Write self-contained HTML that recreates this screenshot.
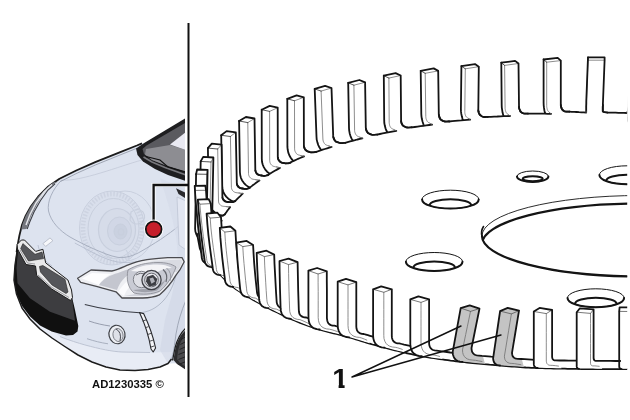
<!DOCTYPE html>
<html><head><meta charset="utf-8"><title>AD1230335</title>
<style>html,body{margin:0;padding:0;background:#fff}svg{display:block;will-change:transform}</style></head>
<body><svg width="630" height="420" viewBox="0 0 630 420">
<rect width="630" height="420" fill="#fff"/>
<clipPath id="rc"><rect x="190" y="0" width="437.2" height="420"/></clipPath>
<g clip-path="url(#rc)">
<g id="t0"><path d="M588.0,60.2 L586.3,104.0 L586.3,104.9 L586.3,105.8 L586.2,106.8 L586.2,107.6 L586.2,108.4 L586.2,109.1 L586.2,109.7 L586.2,110.1 L586.2,110.4 L586.2,110.8 L586.2,111.2 L586.2,111.5 L586.2,111.9 L586.2,112.2 L586.2,112.6 L586.2,121.0 L586.2,118.5 L586.2,117.4 L586.2,115.8 L586.2,113.8 L586.2,111.5 L586.2,108.9 L586.2,106.3 L586.3,103.7 L586.3,101.1 L588.0,57.3Z" fill="#fff"/>
<path d="M588.0,60.2 L586.3,104.0 L586.3,104.9 L586.3,105.8 L586.2,106.8 L586.2,107.6 L586.2,108.4 L586.2,109.1 L586.2,109.7 L586.2,110.1 L586.2,110.4 L586.2,110.8 L586.2,111.2 L586.2,111.5 L586.2,111.9 L586.2,112.2 L586.2,112.6 L607.3,112.6 L604.3,112.2 L603.4,111.9 L602.9,111.5 L602.8,111.2 L602.8,110.8 L602.8,110.4 L602.8,110.1 L602.8,109.7 L602.8,109.1 L602.8,108.4 L602.8,107.6 L602.8,106.8 L602.9,105.8 L602.9,104.9 L602.9,104.0 L604.6,60.2Z" fill="#fff"/>
<path d="M588.0,60.2 L588.0,57.3 L604.6,57.3 L604.6,60.2Z" fill="#fff"/>
<path d="M588.0,60.2 L586.3,104.0 L586.3,104.9 L586.3,105.8 L586.2,106.8 L586.2,107.6 L586.2,108.4 L586.2,109.1 L586.2,109.7 L586.2,110.1 L586.2,110.4 L586.2,110.8 L586.2,111.2 L586.2,111.5 L586.2,111.9 L586.2,112.2 L586.2,112.6" fill="none" stroke="#707070" stroke-width="0.80" stroke-linejoin="round" stroke-linecap="round"/>
<path d="M588.0,60.2 L604.6,60.2" fill="none" stroke="#707070" stroke-width="0.80" stroke-linejoin="round" stroke-linecap="round"/>
<path d="M588.0,60.2 L588.0,57.3" fill="none" stroke="#444" stroke-width="0.90" stroke-linejoin="round" stroke-linecap="round"/>
<path d="M588.0,57.3 L586.3,101.1 L586.3,103.7 L586.2,106.3 L586.2,108.9 L586.2,111.5 L586.2,113.8 L586.2,115.8 L586.2,117.4 L586.2,118.5 L586.2,121.0" fill="none" stroke="#141414" stroke-width="1.80" stroke-linejoin="round" stroke-linecap="round"/>
<path d="M588.0,57.3 L604.6,57.3 L604.6,60.2 L602.9,104.0 L602.9,104.9 L602.9,105.8 L602.8,106.8 L602.8,107.6 L602.8,108.4 L602.8,109.1 L602.8,109.7 L602.8,110.1 L602.8,110.4 L602.8,110.8 L602.8,111.2 L602.9,111.5 L603.4,111.9 L604.3,112.2 L607.3,112.6" fill="none" stroke="#141414" stroke-width="1.80" stroke-linejoin="round" stroke-linecap="round"/></g>
<g id="t1"><path d="M546.7,62.2 L546.7,105.5 L546.7,106.4 L546.8,107.3 L547.0,108.2 L547.2,109.1 L547.4,109.9 L547.7,110.5 L548.1,111.1 L548.4,111.5 L548.8,111.8 L549.2,112.1 L549.5,112.5 L549.9,112.8 L550.3,113.1 L550.7,113.5 L551.1,113.8 L551.1,122.2 L548.4,119.9 L547.5,118.8 L546.6,117.3 L545.7,115.3 L545.0,113.1 L544.4,110.5 L544.0,107.9 L543.7,105.3 L543.6,102.8 L543.6,59.5Z" fill="#fff"/>
<path d="M546.7,62.2 L546.7,105.5 L546.7,106.4 L546.8,107.3 L547.0,108.2 L547.2,109.1 L547.4,109.9 L547.7,110.5 L548.1,111.1 L548.4,111.5 L548.8,111.8 L549.2,112.1 L549.5,112.5 L549.9,112.8 L550.3,113.1 L550.7,113.5 L551.1,113.8 L569.4,111.6 L566.2,111.6 L565.0,111.4 L564.1,111.1 L563.6,110.8 L563.2,110.5 L562.9,110.1 L562.5,109.8 L562.1,109.4 L561.8,108.9 L561.5,108.2 L561.3,107.4 L561.0,106.6 L560.9,105.7 L560.8,104.8 L560.8,103.9 L560.8,60.6Z" fill="#fff"/>
<path d="M546.7,62.2 L543.6,59.5 L557.7,57.9 L560.8,60.6Z" fill="#fff"/>
<path d="M546.7,62.2 L546.7,105.5 L546.7,106.4 L546.8,107.3 L547.0,108.2 L547.2,109.1 L547.4,109.9 L547.7,110.5 L548.1,111.1 L548.4,111.5 L548.8,111.8 L549.2,112.1 L549.5,112.5 L549.9,112.8 L550.3,113.1 L550.7,113.5 L551.1,113.8" fill="none" stroke="#707070" stroke-width="0.80" stroke-linejoin="round" stroke-linecap="round"/>
<path d="M546.7,62.2 L560.8,60.6" fill="none" stroke="#707070" stroke-width="0.80" stroke-linejoin="round" stroke-linecap="round"/>
<path d="M546.7,62.2 L543.6,59.5" fill="none" stroke="#444" stroke-width="0.90" stroke-linejoin="round" stroke-linecap="round"/>
<path d="M543.6,59.5 L543.6,102.8 L543.7,105.3 L544.0,107.9 L544.4,110.5 L545.0,113.1 L545.7,115.3 L546.6,117.3 L547.5,118.8 L548.4,119.9 L551.1,122.2" fill="none" stroke="#141414" stroke-width="1.80" stroke-linejoin="round" stroke-linecap="round"/>
<path d="M543.6,59.5 L557.7,57.9 L560.8,60.6 L560.8,103.9 L560.8,104.8 L560.9,105.7 L561.0,106.6 L561.3,107.4 L561.5,108.2 L561.8,108.9 L562.1,109.4 L562.5,109.8 L562.9,110.1 L563.2,110.5 L563.6,110.8 L564.1,111.1 L565.0,111.4 L566.2,111.6 L569.4,111.6" fill="none" stroke="#141414" stroke-width="1.80" stroke-linejoin="round" stroke-linecap="round"/></g>
<g id="t-1"><path d="M629.8,60.6 L628.2,104.5 L628.2,105.4 L628.1,106.3 L628.0,107.2 L627.9,108.1 L627.8,108.9 L627.7,109.6 L627.6,110.1 L627.5,110.5 L627.4,110.9 L627.2,111.2 L627.1,111.6 L627.0,111.9 L626.9,112.3 L626.8,112.7 L626.7,113.0 L626.7,121.4 L627.5,118.9 L627.8,117.8 L628.1,116.2 L628.3,114.3 L628.5,111.9 L628.7,109.4 L628.9,106.7 L629.0,104.1 L629.2,101.6 L630.8,57.8Z" fill="#fff"/>
<path d="M629.8,60.6 L628.2,104.5 L628.2,105.4 L628.1,106.3 L628.0,107.2 L627.9,108.1 L627.8,108.9 L627.7,109.6 L627.6,110.1 L627.5,110.5 L627.4,110.9 L627.2,111.2 L627.1,111.6 L627.0,111.9 L626.9,112.3 L626.8,112.7 L626.7,113.0 L647.6,113.7 L644.8,113.3 L644.0,112.9 L643.7,112.5 L643.6,112.2 L643.8,111.8 L643.9,111.5 L644.0,111.1 L644.1,110.7 L644.2,110.2 L644.3,109.5 L644.4,108.7 L644.5,107.8 L644.6,106.9 L644.7,105.9 L644.7,105.0 L646.3,61.2Z" fill="#fff"/>
<path d="M629.8,60.6 L630.8,57.8 L647.3,58.3 L646.3,61.2Z" fill="#fff"/>
<path d="M629.8,60.6 L628.2,104.5 L628.2,105.4 L628.1,106.3 L628.0,107.2 L627.9,108.1 L627.8,108.9 L627.7,109.6 L627.6,110.1 L627.5,110.5 L627.4,110.9 L627.2,111.2 L627.1,111.6 L627.0,111.9 L626.9,112.3 L626.8,112.7 L626.7,113.0" fill="none" stroke="#707070" stroke-width="0.80" stroke-linejoin="round" stroke-linecap="round"/>
<path d="M629.8,60.6 L646.3,61.2" fill="none" stroke="#707070" stroke-width="0.80" stroke-linejoin="round" stroke-linecap="round"/>
<path d="M629.8,60.6 L630.8,57.8" fill="none" stroke="#444" stroke-width="0.90" stroke-linejoin="round" stroke-linecap="round"/>
<path d="M630.8,57.8 L629.2,101.6 L629.0,104.1 L628.9,106.7 L628.7,109.4 L628.5,111.9 L628.3,114.3 L628.1,116.2 L627.8,117.8 L627.5,118.9 L626.7,121.4" fill="none" stroke="#141414" stroke-width="1.80" stroke-linejoin="round" stroke-linecap="round"/>
<path d="M630.8,57.8 L647.3,58.3 L646.3,61.2 L644.7,105.0 L644.7,105.9 L644.6,106.9 L644.5,107.8 L644.4,108.7 L644.3,109.5 L644.2,110.2 L644.1,110.7 L644.0,111.1 L643.9,111.5 L643.8,111.8 L643.6,112.2 L643.7,112.5 L644.0,112.9 L644.8,113.3 L647.6,113.7" fill="none" stroke="#141414" stroke-width="1.80" stroke-linejoin="round" stroke-linecap="round"/></g>
<g id="t2"><path d="M504.6,65.4 L505.1,107.9 L505.1,108.7 L505.3,109.6 L505.4,110.5 L505.7,111.4 L506.0,112.1 L506.3,112.8 L506.7,113.3 L507.0,113.7 L507.5,114.0 L507.9,114.3 L508.3,114.7 L508.7,115.0 L509.1,115.3 L509.5,115.7 L510.0,116.0 L510.0,124.4 L507.0,122.1 L506.0,121.1 L505.0,119.5 L504.1,117.6 L503.3,115.3 L502.6,112.8 L502.2,110.2 L501.8,107.6 L501.7,105.2 L501.3,62.7Z" fill="#fff"/>
<path d="M504.6,65.4 L505.1,107.9 L505.1,108.7 L505.3,109.6 L505.4,110.5 L505.7,111.4 L506.0,112.1 L506.3,112.8 L506.7,113.3 L507.0,113.7 L507.5,114.0 L507.9,114.3 L508.3,114.7 L508.7,115.0 L509.1,115.3 L509.5,115.7 L510.0,116.0 L528.0,113.6 L524.9,113.6 L523.6,113.4 L522.7,113.2 L522.2,112.8 L521.7,112.5 L521.3,112.2 L520.9,111.9 L520.5,111.5 L520.2,111.0 L519.9,110.3 L519.6,109.5 L519.3,108.7 L519.1,107.8 L519.0,106.9 L519.0,106.0 L518.5,63.5Z" fill="#fff"/>
<path d="M504.6,65.4 L501.3,62.7 L515.1,60.9 L518.5,63.5Z" fill="#fff"/>
<path d="M504.6,65.4 L505.1,107.9 L505.1,108.7 L505.3,109.6 L505.4,110.5 L505.7,111.4 L506.0,112.1 L506.3,112.8 L506.7,113.3 L507.0,113.7 L507.5,114.0 L507.9,114.3 L508.3,114.7 L508.7,115.0 L509.1,115.3 L509.5,115.7 L510.0,116.0" fill="none" stroke="#707070" stroke-width="0.80" stroke-linejoin="round" stroke-linecap="round"/>
<path d="M504.6,65.4 L518.5,63.5" fill="none" stroke="#707070" stroke-width="0.80" stroke-linejoin="round" stroke-linecap="round"/>
<path d="M504.6,65.4 L501.3,62.7" fill="none" stroke="#444" stroke-width="0.90" stroke-linejoin="round" stroke-linecap="round"/>
<path d="M501.3,62.7 L501.7,105.2 L501.8,107.6 L502.2,110.2 L502.6,112.8 L503.3,115.3 L504.1,117.6 L505.0,119.5 L506.0,121.1 L507.0,122.1 L510.0,124.4" fill="none" stroke="#141414" stroke-width="1.80" stroke-linejoin="round" stroke-linecap="round"/>
<path d="M501.3,62.7 L515.1,60.9 L518.5,63.5 L519.0,106.0 L519.0,106.9 L519.1,107.8 L519.3,108.7 L519.6,109.5 L519.9,110.3 L520.2,111.0 L520.5,111.5 L520.9,111.9 L521.3,112.2 L521.7,112.5 L522.2,112.8 L522.7,113.2 L523.6,113.4 L524.9,113.6 L528.0,113.6" fill="none" stroke="#141414" stroke-width="1.80" stroke-linejoin="round" stroke-linecap="round"/></g>
<g id="t-2"><path d="M671.3,62.5 L669.7,106.3 L669.6,107.3 L669.5,108.2 L669.4,109.1 L669.2,110.0 L669.0,110.8 L668.8,111.5 L668.6,112.0 L668.4,112.4 L668.2,112.7 L667.9,113.1 L667.7,113.4 L667.5,113.8 L667.2,114.1 L667.0,114.5 L666.8,114.8 L666.8,123.3 L668.4,120.8 L669.0,119.7 L669.6,118.2 L670.1,116.2 L670.5,113.9 L670.9,111.3 L671.2,108.7 L671.4,106.1 L671.6,103.5 L673.2,59.7Z" fill="#fff"/>
<path d="M671.3,62.5 L669.7,106.3 L669.6,107.3 L669.5,108.2 L669.4,109.1 L669.2,110.0 L669.0,110.8 L668.8,111.5 L668.6,112.0 L668.4,112.4 L668.2,112.7 L667.9,113.1 L667.7,113.4 L667.5,113.8 L667.2,114.1 L667.0,114.5 L666.8,114.8 L687.4,116.3 L684.7,115.7 L684.1,115.3 L683.8,114.9 L683.9,114.6 L684.2,114.2 L684.4,113.9 L684.6,113.5 L684.8,113.1 L685.1,112.6 L685.3,111.9 L685.4,111.1 L685.6,110.2 L685.7,109.3 L685.8,108.4 L685.9,107.5 L687.5,63.6Z" fill="#fff"/>
<path d="M671.3,62.5 L673.2,59.7 L689.4,60.8 L687.5,63.6Z" fill="#fff"/>
<path d="M671.3,62.5 L669.7,106.3 L669.6,107.3 L669.5,108.2 L669.4,109.1 L669.2,110.0 L669.0,110.8 L668.8,111.5 L668.6,112.0 L668.4,112.4 L668.2,112.7 L667.9,113.1 L667.7,113.4 L667.5,113.8 L667.2,114.1 L667.0,114.5 L666.8,114.8" fill="none" stroke="#707070" stroke-width="0.80" stroke-linejoin="round" stroke-linecap="round"/>
<path d="M671.3,62.5 L687.5,63.6" fill="none" stroke="#707070" stroke-width="0.80" stroke-linejoin="round" stroke-linecap="round"/>
<path d="M671.3,62.5 L673.2,59.7" fill="none" stroke="#444" stroke-width="0.90" stroke-linejoin="round" stroke-linecap="round"/>
<path d="M673.2,59.7 L671.6,103.5 L671.4,106.1 L671.2,108.7 L670.9,111.3 L670.5,113.9 L670.1,116.2 L669.6,118.2 L669.0,119.7 L668.4,120.8 L666.8,123.3" fill="none" stroke="#141414" stroke-width="1.80" stroke-linejoin="round" stroke-linecap="round"/>
<path d="M673.2,59.7 L689.4,60.8 L687.5,63.6 L685.9,107.5 L685.8,108.4 L685.7,109.3 L685.6,110.2 L685.4,111.1 L685.3,111.9 L685.1,112.6 L684.8,113.1 L684.6,113.5 L684.4,113.9 L684.2,114.2 L683.9,114.6 L683.8,114.9 L684.1,115.3 L684.7,115.7 L687.4,116.3" fill="none" stroke="#141414" stroke-width="1.80" stroke-linejoin="round" stroke-linecap="round"/></g>
<g id="t3"><path d="M465.3,68.8 L464.8,111.5 L464.8,112.4 L464.9,113.3 L465.1,114.2 L465.3,115.1 L465.7,115.8 L466.0,116.5 L466.4,117.0 L466.9,117.4 L467.3,117.7 L467.8,118.0 L468.3,118.3 L468.7,118.6 L469.2,119.0 L469.7,119.3 L470.2,119.6 L470.2,128.1 L466.9,125.9 L465.7,124.8 L464.6,123.3 L463.5,121.4 L462.6,119.1 L461.9,116.6 L461.3,113.9 L461.0,111.4 L460.9,108.9 L461.4,66.2Z" fill="#fff"/>
<path d="M465.3,68.8 L464.8,111.5 L464.8,112.4 L464.9,113.3 L465.1,114.2 L465.3,115.1 L465.7,115.8 L466.0,116.5 L466.4,117.0 L466.9,117.4 L467.3,117.7 L467.8,118.0 L468.3,118.3 L468.7,118.6 L469.2,119.0 L469.7,119.3 L470.2,119.6 L487.8,116.9 L484.6,117.0 L483.3,116.8 L482.4,116.5 L481.8,116.2 L481.3,115.9 L480.9,115.6 L480.4,115.3 L480.0,114.9 L479.6,114.4 L479.2,113.7 L478.9,113.0 L478.6,112.1 L478.4,111.3 L478.3,110.3 L478.3,109.5 L478.8,66.7Z" fill="#fff"/>
<path d="M465.3,68.8 L461.4,66.2 L475.0,64.1 L478.8,66.7Z" fill="#fff"/>
<path d="M465.3,68.8 L464.8,111.5 L464.8,112.4 L464.9,113.3 L465.1,114.2 L465.3,115.1 L465.7,115.8 L466.0,116.5 L466.4,117.0 L466.9,117.4 L467.3,117.7 L467.8,118.0 L468.3,118.3 L468.7,118.6 L469.2,119.0 L469.7,119.3 L470.2,119.6" fill="none" stroke="#707070" stroke-width="0.80" stroke-linejoin="round" stroke-linecap="round"/>
<path d="M465.3,68.8 L478.8,66.7" fill="none" stroke="#707070" stroke-width="0.80" stroke-linejoin="round" stroke-linecap="round"/>
<path d="M465.3,68.8 L461.4,66.2" fill="none" stroke="#444" stroke-width="0.90" stroke-linejoin="round" stroke-linecap="round"/>
<path d="M461.4,66.2 L460.9,108.9 L461.0,111.4 L461.3,113.9 L461.9,116.6 L462.6,119.1 L463.5,121.4 L464.6,123.3 L465.7,124.8 L466.9,125.9 L470.2,128.1" fill="none" stroke="#141414" stroke-width="1.80" stroke-linejoin="round" stroke-linecap="round"/>
<path d="M461.4,66.2 L475.0,64.1 L478.8,66.7 L478.3,109.5 L478.3,110.3 L478.4,111.3 L478.6,112.1 L478.9,113.0 L479.2,113.7 L479.6,114.4 L480.0,114.9 L480.4,115.3 L480.9,115.6 L481.3,115.9 L481.8,116.2 L482.4,116.5 L483.3,116.8 L484.6,117.0 L487.8,116.9" fill="none" stroke="#141414" stroke-width="1.80" stroke-linejoin="round" stroke-linecap="round"/></g>
<g id="t4"><path d="M425.2,73.3 L425.8,116.6 L425.9,117.5 L426.0,118.4 L426.3,119.3 L426.6,120.1 L427.0,120.9 L427.4,121.6 L427.9,122.1 L428.3,122.4 L428.9,122.7 L429.4,123.0 L430.0,123.3 L430.5,123.7 L431.0,124.0 L431.6,124.3 L432.1,124.6 L432.1,133.1 L428.3,131.0 L427.0,130.0 L425.7,128.5 L424.5,126.6 L423.4,124.3 L422.6,121.8 L421.9,119.1 L421.5,116.6 L421.3,114.1 L420.7,70.8Z" fill="#fff"/>
<path d="M425.2,73.3 L425.8,116.6 L425.9,117.5 L426.0,118.4 L426.3,119.3 L426.6,120.1 L427.0,120.9 L427.4,121.6 L427.9,122.1 L428.3,122.4 L428.9,122.7 L429.4,123.0 L430.0,123.3 L430.5,123.7 L431.0,124.0 L431.6,124.3 L432.1,124.6 L449.1,121.5 L446.0,121.6 L444.6,121.5 L443.7,121.2 L443.0,121.0 L442.5,120.7 L441.9,120.3 L441.4,120.0 L440.9,119.7 L440.4,119.2 L440.0,118.5 L439.6,117.8 L439.3,116.9 L439.1,116.0 L438.9,115.1 L438.8,114.2 L438.2,70.9Z" fill="#fff"/>
<path d="M425.2,73.3 L420.7,70.8 L433.7,68.4 L438.2,70.9Z" fill="#fff"/>
<path d="M425.2,73.3 L425.8,116.6 L425.9,117.5 L426.0,118.4 L426.3,119.3 L426.6,120.1 L427.0,120.9 L427.4,121.6 L427.9,122.1 L428.3,122.4 L428.9,122.7 L429.4,123.0 L430.0,123.3 L430.5,123.7 L431.0,124.0 L431.6,124.3 L432.1,124.6" fill="none" stroke="#707070" stroke-width="0.80" stroke-linejoin="round" stroke-linecap="round"/>
<path d="M425.2,73.3 L438.2,70.9" fill="none" stroke="#707070" stroke-width="0.80" stroke-linejoin="round" stroke-linecap="round"/>
<path d="M425.2,73.3 L420.7,70.8" fill="none" stroke="#444" stroke-width="0.90" stroke-linejoin="round" stroke-linecap="round"/>
<path d="M420.7,70.8 L421.3,114.1 L421.5,116.6 L421.9,119.1 L422.6,121.8 L423.4,124.3 L424.5,126.6 L425.7,128.5 L427.0,130.0 L428.3,131.0 L432.1,133.1" fill="none" stroke="#141414" stroke-width="1.80" stroke-linejoin="round" stroke-linecap="round"/>
<path d="M420.7,70.8 L433.7,68.4 L438.2,70.9 L438.8,114.2 L438.9,115.1 L439.1,116.0 L439.3,116.9 L439.6,117.8 L440.0,118.5 L440.4,119.2 L440.9,119.7 L441.4,120.0 L441.9,120.3 L442.5,120.7 L443.0,121.0 L443.7,121.2 L444.6,121.5 L446.0,121.6 L449.1,121.5" fill="none" stroke="#141414" stroke-width="1.80" stroke-linejoin="round" stroke-linecap="round"/></g>
<g id="t5"><path d="M388.9,78.1 L389.2,122.8 L389.3,123.7 L389.5,124.7 L389.7,125.6 L390.1,126.5 L390.5,127.2 L391.0,127.9 L391.5,128.4 L392.1,128.7 L392.7,129.0 L393.3,129.3 L393.9,129.6 L394.5,129.9 L395.1,130.2 L395.7,130.5 L396.3,130.8 L396.3,139.4 L392.1,137.4 L390.5,136.4 L389.1,134.9 L387.7,133.0 L386.5,130.8 L385.5,128.3 L384.8,125.6 L384.3,123.0 L384.2,120.4 L383.8,75.6Z" fill="#fff"/>
<path d="M388.9,78.1 L389.2,122.8 L389.3,123.7 L389.5,124.7 L389.7,125.6 L390.1,126.5 L390.5,127.2 L391.0,127.9 L391.5,128.4 L392.1,128.7 L392.7,129.0 L393.3,129.3 L393.9,129.6 L394.5,129.9 L395.1,130.2 L395.7,130.5 L396.3,130.8 L411.8,127.4 L408.8,127.7 L407.4,127.5 L406.4,127.3 L405.7,127.1 L405.1,126.8 L404.5,126.5 L403.9,126.2 L403.3,125.8 L402.8,125.3 L402.3,124.7 L401.9,123.9 L401.5,123.1 L401.3,122.1 L401.1,121.2 L401.1,120.3 L400.7,75.5Z" fill="#fff"/>
<path d="M388.9,78.1 L383.8,75.6 L395.6,73.1 L400.7,75.5Z" fill="#fff"/>
<path d="M388.9,78.1 L389.2,122.8 L389.3,123.7 L389.5,124.7 L389.7,125.6 L390.1,126.5 L390.5,127.2 L391.0,127.9 L391.5,128.4 L392.1,128.7 L392.7,129.0 L393.3,129.3 L393.9,129.6 L394.5,129.9 L395.1,130.2 L395.7,130.5 L396.3,130.8" fill="none" stroke="#707070" stroke-width="0.80" stroke-linejoin="round" stroke-linecap="round"/>
<path d="M388.9,78.1 L400.7,75.5" fill="none" stroke="#707070" stroke-width="0.80" stroke-linejoin="round" stroke-linecap="round"/>
<path d="M388.9,78.1 L383.8,75.6" fill="none" stroke="#444" stroke-width="0.90" stroke-linejoin="round" stroke-linecap="round"/>
<path d="M383.8,75.6 L384.2,120.4 L384.3,123.0 L384.8,125.6 L385.5,128.3 L386.5,130.8 L387.7,133.0 L389.1,134.9 L390.5,136.4 L392.1,137.4 L396.3,139.4" fill="none" stroke="#141414" stroke-width="1.80" stroke-linejoin="round" stroke-linecap="round"/>
<path d="M383.8,75.6 L395.6,73.1 L400.7,75.5 L401.1,120.3 L401.1,121.2 L401.3,122.1 L401.5,123.1 L401.9,123.9 L402.3,124.7 L402.8,125.3 L403.3,125.8 L403.9,126.2 L404.5,126.5 L405.1,126.8 L405.7,127.1 L406.4,127.3 L407.4,127.5 L408.8,127.7 L411.8,127.4" fill="none" stroke="#141414" stroke-width="1.80" stroke-linejoin="round" stroke-linecap="round"/></g>
<g id="t6"><path d="M353.9,85.2 L354.6,130.5 L354.7,131.4 L354.9,132.3 L355.2,133.2 L355.6,134.1 L356.1,134.9 L356.6,135.5 L357.2,136.0 L357.8,136.3 L358.4,136.6 L359.1,136.9 L359.8,137.2 L360.4,137.4 L361.1,137.7 L361.8,138.0 L362.4,138.3 L362.4,147.0 L357.8,145.1 L356.1,144.1 L354.4,142.7 L352.9,140.8 L351.6,138.6 L350.5,136.1 L349.7,133.4 L349.2,130.7 L349.0,128.1 L348.2,82.8Z" fill="#fff"/>
<path d="M353.9,85.2 L354.6,130.5 L354.7,131.4 L354.9,132.3 L355.2,133.2 L355.6,134.1 L356.1,134.9 L356.6,135.5 L357.2,136.0 L357.8,136.3 L358.4,136.6 L359.1,136.9 L359.8,137.2 L360.4,137.4 L361.1,137.7 L361.8,138.0 L362.4,138.3 L377.2,134.6 L374.2,134.9 L372.8,134.8 L371.8,134.6 L371.0,134.4 L370.3,134.1 L369.6,133.8 L369.0,133.5 L368.4,133.2 L367.8,132.7 L367.3,132.1 L366.8,131.3 L366.4,130.4 L366.1,129.5 L365.9,128.6 L365.8,127.6 L365.1,82.3Z" fill="#fff"/>
<path d="M353.9,85.2 L348.2,82.8 L359.4,80.0 L365.1,82.3Z" fill="#fff"/>
<path d="M353.9,85.2 L354.6,130.5 L354.7,131.4 L354.9,132.3 L355.2,133.2 L355.6,134.1 L356.1,134.9 L356.6,135.5 L357.2,136.0 L357.8,136.3 L358.4,136.6 L359.1,136.9 L359.8,137.2 L360.4,137.4 L361.1,137.7 L361.8,138.0 L362.4,138.3" fill="none" stroke="#707070" stroke-width="0.80" stroke-linejoin="round" stroke-linecap="round"/>
<path d="M353.9,85.2 L365.1,82.3" fill="none" stroke="#707070" stroke-width="0.80" stroke-linejoin="round" stroke-linecap="round"/>
<path d="M353.9,85.2 L348.2,82.8" fill="none" stroke="#444" stroke-width="0.90" stroke-linejoin="round" stroke-linecap="round"/>
<path d="M348.2,82.8 L349.0,128.1 L349.2,130.7 L349.7,133.4 L350.5,136.1 L351.6,138.6 L352.9,140.8 L354.4,142.7 L356.1,144.1 L357.8,145.1 L362.4,147.0" fill="none" stroke="#141414" stroke-width="1.80" stroke-linejoin="round" stroke-linecap="round"/>
<path d="M348.2,82.8 L359.4,80.0 L365.1,82.3 L365.8,127.6 L365.9,128.6 L366.1,129.5 L366.4,130.4 L366.8,131.3 L367.3,132.1 L367.8,132.7 L368.4,133.2 L369.0,133.5 L369.6,133.8 L370.3,134.1 L371.0,134.4 L371.8,134.6 L372.8,134.8 L374.2,134.9 L377.2,134.6" fill="none" stroke="#141414" stroke-width="1.80" stroke-linejoin="round" stroke-linecap="round"/></g>
<g id="t7"><path d="M321.1,91.1 L322.9,139.0 L323.0,140.0 L323.2,141.0 L323.5,141.9 L324.0,142.8 L324.5,143.6 L325.1,144.3 L325.8,144.8 L326.5,145.1 L327.2,145.4 L327.9,145.6 L328.7,145.9 L329.4,146.1 L330.1,146.4 L330.8,146.6 L331.6,146.9 L331.6,155.7 L326.5,154.0 L324.5,153.1 L322.7,151.6 L321.0,149.8 L319.5,147.6 L318.3,145.1 L317.4,142.4 L316.7,139.6 L316.5,136.8 L314.7,88.9Z" fill="#fff"/>
<path d="M321.1,91.1 L322.9,139.0 L323.0,140.0 L323.2,141.0 L323.5,141.9 L324.0,142.8 L324.5,143.6 L325.1,144.3 L325.8,144.8 L326.5,145.1 L327.2,145.4 L327.9,145.6 L328.7,145.9 L329.4,146.1 L330.1,146.4 L330.8,146.6 L331.6,146.9 L345.2,142.8 L342.4,143.1 L341.0,143.1 L339.9,142.9 L339.0,142.7 L338.3,142.5 L337.6,142.2 L336.8,142.0 L336.2,141.7 L335.5,141.2 L334.9,140.5 L334.4,139.7 L333.9,138.8 L333.6,137.9 L333.3,136.9 L333.2,135.9 L331.5,88.0Z" fill="#fff"/>
<path d="M321.1,91.1 L314.7,88.9 L325.1,85.8 L331.5,88.0Z" fill="#fff"/>
<path d="M321.1,91.1 L322.9,139.0 L323.0,140.0 L323.2,141.0 L323.5,141.9 L324.0,142.8 L324.5,143.6 L325.1,144.3 L325.8,144.8 L326.5,145.1 L327.2,145.4 L327.9,145.6 L328.7,145.9 L329.4,146.1 L330.1,146.4 L330.8,146.6 L331.6,146.9" fill="none" stroke="#707070" stroke-width="0.80" stroke-linejoin="round" stroke-linecap="round"/>
<path d="M321.1,91.1 L331.5,88.0" fill="none" stroke="#707070" stroke-width="0.80" stroke-linejoin="round" stroke-linecap="round"/>
<path d="M321.1,91.1 L314.7,88.9" fill="none" stroke="#444" stroke-width="0.90" stroke-linejoin="round" stroke-linecap="round"/>
<path d="M314.7,88.9 L316.5,136.8 L316.7,139.6 L317.4,142.4 L318.3,145.1 L319.5,147.6 L321.0,149.8 L322.7,151.6 L324.5,153.1 L326.5,154.0 L331.6,155.7" fill="none" stroke="#141414" stroke-width="1.80" stroke-linejoin="round" stroke-linecap="round"/>
<path d="M314.7,88.9 L325.1,85.8 L331.5,88.0 L333.2,135.9 L333.3,136.9 L333.6,137.9 L333.9,138.8 L334.4,139.7 L334.9,140.5 L335.5,141.2 L336.2,141.7 L336.8,142.0 L337.6,142.2 L338.3,142.5 L339.0,142.7 L339.9,142.9 L341.0,143.1 L342.4,143.1 L345.2,142.8" fill="none" stroke="#141414" stroke-width="1.80" stroke-linejoin="round" stroke-linecap="round"/></g>
<g id="t8"><path d="M294.5,100.8 L294.6,148.9 L294.7,149.9 L294.9,150.9 L295.3,151.8 L295.8,152.7 L296.3,153.5 L297.0,154.1 L297.7,154.6 L298.4,154.9 L299.2,155.1 L300.0,155.3 L300.9,155.6 L301.7,155.8 L302.5,156.0 L303.3,156.2 L304.1,156.4 L304.1,165.5 L298.4,163.9 L296.3,163.0 L294.2,161.7 L292.3,159.9 L290.7,157.7 L289.3,155.2 L288.3,152.6 L287.7,149.8 L287.4,146.9 L287.3,98.8Z" fill="#fff"/>
<path d="M294.5,100.8 L294.6,148.9 L294.7,149.9 L294.9,150.9 L295.3,151.8 L295.8,152.7 L296.3,153.5 L297.0,154.1 L297.7,154.6 L298.4,154.9 L299.2,155.1 L300.0,155.3 L300.9,155.6 L301.7,155.8 L302.5,156.0 L303.3,156.2 L304.1,156.4 L316.3,151.9 L313.6,152.4 L312.2,152.4 L311.1,152.3 L310.1,152.1 L309.3,151.9 L308.5,151.6 L307.7,151.4 L307.0,151.1 L306.3,150.6 L305.6,150.0 L305.0,149.2 L304.6,148.4 L304.2,147.4 L304.0,146.4 L303.9,145.5 L303.8,97.3Z" fill="#fff"/>
<path d="M294.5,100.8 L287.3,98.8 L296.6,95.3 L303.8,97.3Z" fill="#fff"/>
<path d="M294.5,100.8 L294.6,148.9 L294.7,149.9 L294.9,150.9 L295.3,151.8 L295.8,152.7 L296.3,153.5 L297.0,154.1 L297.7,154.6 L298.4,154.9 L299.2,155.1 L300.0,155.3 L300.9,155.6 L301.7,155.8 L302.5,156.0 L303.3,156.2 L304.1,156.4" fill="none" stroke="#707070" stroke-width="0.80" stroke-linejoin="round" stroke-linecap="round"/>
<path d="M294.5,100.8 L303.8,97.3" fill="none" stroke="#707070" stroke-width="0.80" stroke-linejoin="round" stroke-linecap="round"/>
<path d="M294.5,100.8 L287.3,98.8" fill="none" stroke="#444" stroke-width="0.90" stroke-linejoin="round" stroke-linecap="round"/>
<path d="M287.3,98.8 L287.4,146.9 L287.7,149.8 L288.3,152.6 L289.3,155.2 L290.7,157.7 L292.3,159.9 L294.2,161.7 L296.3,163.0 L298.4,163.9 L304.1,165.5" fill="none" stroke="#141414" stroke-width="1.80" stroke-linejoin="round" stroke-linecap="round"/>
<path d="M287.3,98.8 L296.6,95.3 L303.8,97.3 L303.9,145.5 L304.0,146.4 L304.2,147.4 L304.6,148.4 L305.0,149.2 L305.6,150.0 L306.3,150.6 L307.0,151.1 L307.7,151.4 L308.5,151.6 L309.3,151.9 L310.1,152.1 L311.1,152.3 L312.2,152.4 L313.6,152.4 L316.3,151.9" fill="none" stroke="#141414" stroke-width="1.80" stroke-linejoin="round" stroke-linecap="round"/></g>
<g id="t9"><path d="M269.6,111.4 L269.7,160.6 L269.8,161.5 L270.0,162.5 L270.4,163.5 L270.9,164.3 L271.6,165.1 L272.3,165.7 L273.0,166.1 L273.8,166.4 L274.7,166.6 L275.6,166.8 L276.4,166.9 L277.3,167.1 L278.2,167.3 L279.0,167.5 L279.9,167.7 L279.9,176.9 L273.8,175.5 L271.5,174.7 L269.2,173.4 L267.1,171.7 L265.3,169.6 L263.8,167.1 L262.7,164.5 L262.0,161.7 L261.8,158.8 L261.7,109.7Z" fill="#fff"/>
<path d="M269.6,111.4 L269.7,160.6 L269.8,161.5 L270.0,162.5 L270.4,163.5 L270.9,164.3 L271.6,165.1 L272.3,165.7 L273.0,166.1 L273.8,166.4 L274.7,166.6 L275.6,166.8 L276.4,166.9 L277.3,167.1 L278.2,167.3 L279.0,167.5 L279.9,167.7 L290.5,162.8 L288.0,163.3 L286.6,163.4 L285.5,163.3 L284.5,163.2 L283.6,163.0 L282.8,162.8 L281.9,162.6 L281.1,162.3 L280.3,161.9 L279.6,161.3 L279.0,160.5 L278.5,159.7 L278.1,158.8 L277.9,157.8 L277.8,156.8 L277.7,107.7Z" fill="#fff"/>
<path d="M269.6,111.4 L261.7,109.7 L269.7,105.9 L277.7,107.7Z" fill="#fff"/>
<path d="M269.6,111.4 L269.7,160.6 L269.8,161.5 L270.0,162.5 L270.4,163.5 L270.9,164.3 L271.6,165.1 L272.3,165.7 L273.0,166.1 L273.8,166.4 L274.7,166.6 L275.6,166.8 L276.4,166.9 L277.3,167.1 L278.2,167.3 L279.0,167.5 L279.9,167.7" fill="none" stroke="#707070" stroke-width="0.80" stroke-linejoin="round" stroke-linecap="round"/>
<path d="M269.6,111.4 L277.7,107.7" fill="none" stroke="#707070" stroke-width="0.80" stroke-linejoin="round" stroke-linecap="round"/>
<path d="M269.6,111.4 L261.7,109.7" fill="none" stroke="#444" stroke-width="0.90" stroke-linejoin="round" stroke-linecap="round"/>
<path d="M261.7,109.7 L261.8,158.8 L262.0,161.7 L262.7,164.5 L263.8,167.1 L265.3,169.6 L267.1,171.7 L269.2,173.4 L271.5,174.7 L273.8,175.5 L279.9,176.9" fill="none" stroke="#141414" stroke-width="1.80" stroke-linejoin="round" stroke-linecap="round"/>
<path d="M261.7,109.7 L269.7,105.9 L277.7,107.7 L277.8,156.8 L277.9,157.8 L278.1,158.8 L278.5,159.7 L279.0,160.5 L279.6,161.3 L280.3,161.9 L281.1,162.3 L281.9,162.6 L282.8,162.8 L283.6,163.0 L284.5,163.2 L285.5,163.3 L286.6,163.4 L288.0,163.3 L290.5,162.8" fill="none" stroke="#141414" stroke-width="1.80" stroke-linejoin="round" stroke-linecap="round"/></g>
<g id="t10"><path d="M247.8,122.6 L248.5,173.6 L248.6,174.6 L248.9,175.6 L249.3,176.5 L249.9,177.3 L250.5,178.0 L251.3,178.6 L252.1,179.0 L253.0,179.2 L253.9,179.4 L254.8,179.5 L255.7,179.7 L256.6,179.9 L257.5,180.0 L258.5,180.2 L259.4,180.3 L259.4,189.7 L253.0,188.5 L250.4,187.8 L248.0,186.6 L245.7,184.9 L243.8,182.8 L242.1,180.4 L240.9,177.8 L240.2,175.0 L239.9,172.1 L239.1,121.0Z" fill="#fff"/>
<path d="M247.8,122.6 L248.5,173.6 L248.6,174.6 L248.9,175.6 L249.3,176.5 L249.9,177.3 L250.5,178.0 L251.3,178.6 L252.1,179.0 L253.0,179.2 L253.9,179.4 L254.8,179.5 L255.7,179.7 L256.6,179.9 L257.5,180.0 L258.5,180.2 L259.4,180.3 L268.3,175.1 L266.0,175.7 L264.7,175.8 L263.5,175.8 L262.5,175.7 L261.6,175.5 L260.7,175.4 L259.7,175.2 L258.9,175.0 L258.1,174.6 L257.3,174.0 L256.6,173.3 L256.1,172.5 L255.7,171.5 L255.4,170.6 L255.3,169.6 L254.5,118.5Z" fill="#fff"/>
<path d="M247.8,122.6 L239.1,121.0 L245.9,117.0 L254.5,118.5Z" fill="#fff"/>
<path d="M247.8,122.6 L248.5,173.6 L248.6,174.6 L248.9,175.6 L249.3,176.5 L249.9,177.3 L250.5,178.0 L251.3,178.6 L252.1,179.0 L253.0,179.2 L253.9,179.4 L254.8,179.5 L255.7,179.7 L256.6,179.9 L257.5,180.0 L258.5,180.2 L259.4,180.3" fill="none" stroke="#707070" stroke-width="0.80" stroke-linejoin="round" stroke-linecap="round"/>
<path d="M247.8,122.6 L254.5,118.5" fill="none" stroke="#707070" stroke-width="0.80" stroke-linejoin="round" stroke-linecap="round"/>
<path d="M247.8,122.6 L239.1,121.0" fill="none" stroke="#444" stroke-width="0.90" stroke-linejoin="round" stroke-linecap="round"/>
<path d="M239.1,121.0 L239.9,172.1 L240.2,175.0 L240.9,177.8 L242.1,180.4 L243.8,182.8 L245.7,184.9 L248.0,186.6 L250.4,187.8 L253.0,188.5 L259.4,189.7" fill="none" stroke="#141414" stroke-width="1.80" stroke-linejoin="round" stroke-linecap="round"/>
<path d="M239.1,121.0 L245.9,117.0 L254.5,118.5 L255.3,169.6 L255.4,170.6 L255.7,171.5 L256.1,172.5 L256.6,173.3 L257.3,174.0 L258.1,174.6 L258.9,175.0 L259.7,175.2 L260.7,175.4 L261.6,175.5 L262.5,175.7 L263.5,175.8 L264.7,175.8 L266.0,175.7 L268.3,175.1" fill="none" stroke="#141414" stroke-width="1.80" stroke-linejoin="round" stroke-linecap="round"/></g>
<g id="t11"><path d="M230.4,136.5 L231.4,187.3 L231.5,188.2 L231.8,189.1 L232.2,190.0 L232.8,190.8 L233.5,191.5 L234.3,192.0 L235.1,192.4 L236.0,192.6 L237.0,192.8 L238.0,192.9 L238.9,193.0 L239.9,193.1 L240.8,193.3 L241.8,193.4 L242.7,193.5 L242.7,203.0 L236.0,202.1 L233.3,201.5 L230.7,200.3 L228.3,198.7 L226.2,196.6 L224.5,194.3 L223.2,191.6 L222.4,188.9 L222.1,186.0 L221.2,135.3Z" fill="#fff"/>
<path d="M230.4,136.5 L231.4,187.3 L231.5,188.2 L231.8,189.1 L232.2,190.0 L232.8,190.8 L233.5,191.5 L234.3,192.0 L235.1,192.4 L236.0,192.6 L237.0,192.8 L238.0,192.9 L238.9,193.0 L239.9,193.1 L240.8,193.3 L241.8,193.4 L242.7,193.5 L249.8,187.9 L247.8,188.7 L246.5,188.8 L245.3,188.8 L244.3,188.8 L243.3,188.6 L242.4,188.5 L241.4,188.4 L240.5,188.2 L239.7,187.8 L238.9,187.3 L238.2,186.6 L237.6,185.8 L237.2,184.9 L236.9,184.0 L236.8,183.0 L235.8,132.3Z" fill="#fff"/>
<path d="M230.4,136.5 L221.2,135.3 L226.6,131.1 L235.8,132.3Z" fill="#fff"/>
<path d="M230.4,136.5 L231.4,187.3 L231.5,188.2 L231.8,189.1 L232.2,190.0 L232.8,190.8 L233.5,191.5 L234.3,192.0 L235.1,192.4 L236.0,192.6 L237.0,192.8 L238.0,192.9 L238.9,193.0 L239.9,193.1 L240.8,193.3 L241.8,193.4 L242.7,193.5" fill="none" stroke="#707070" stroke-width="0.80" stroke-linejoin="round" stroke-linecap="round"/>
<path d="M230.4,136.5 L235.8,132.3" fill="none" stroke="#707070" stroke-width="0.80" stroke-linejoin="round" stroke-linecap="round"/>
<path d="M230.4,136.5 L221.2,135.3" fill="none" stroke="#444" stroke-width="0.90" stroke-linejoin="round" stroke-linecap="round"/>
<path d="M221.2,135.3 L222.1,186.0 L222.4,188.9 L223.2,191.6 L224.5,194.3 L226.2,196.6 L228.3,198.7 L230.7,200.3 L233.3,201.5 L236.0,202.1 L242.7,203.0" fill="none" stroke="#141414" stroke-width="1.80" stroke-linejoin="round" stroke-linecap="round"/>
<path d="M221.2,135.3 L226.6,131.1 L235.8,132.3 L236.8,183.0 L236.9,184.0 L237.2,184.9 L237.6,185.8 L238.2,186.6 L238.9,187.3 L239.7,187.8 L240.5,188.2 L241.4,188.4 L242.4,188.5 L243.3,188.6 L244.3,188.8 L245.3,188.8 L246.5,188.8 L247.8,188.7 L249.8,187.9" fill="none" stroke="#141414" stroke-width="1.80" stroke-linejoin="round" stroke-linecap="round"/></g>
<g id="t12"><path d="M217.7,149.0 L218.5,201.1 L218.6,202.1 L218.8,203.0 L219.3,203.8 L219.9,204.6 L220.6,205.3 L221.4,205.8 L222.3,206.1 L223.3,206.3 L224.2,206.4 L225.2,206.5 L226.2,206.6 L227.2,206.7 L228.1,206.8 L229.1,206.8 L230.1,206.9 L230.1,216.6 L223.3,216.0 L220.4,215.4 L217.7,214.3 L215.2,212.8 L212.9,210.8 L211.1,208.4 L209.8,205.8 L209.0,203.0 L208.7,200.2 L207.9,148.1Z" fill="#fff"/>
<path d="M217.7,149.0 L218.5,201.1 L218.6,202.1 L218.8,203.0 L219.3,203.8 L219.9,204.6 L220.6,205.3 L221.4,205.8 L222.3,206.1 L223.3,206.3 L224.2,206.4 L225.2,206.5 L226.2,206.6 L227.2,206.7 L228.1,206.8 L229.1,206.8 L230.1,206.9 L235.3,201.2 L233.5,201.9 L232.3,202.1 L231.2,202.2 L230.1,202.2 L229.2,202.1 L228.2,202.0 L227.2,201.9 L226.3,201.7 L225.4,201.4 L224.5,200.9 L223.8,200.2 L223.2,199.4 L222.8,198.6 L222.5,197.7 L222.4,196.7 L221.6,144.7Z" fill="#fff"/>
<path d="M217.7,149.0 L207.9,148.1 L211.8,143.7 L221.6,144.7Z" fill="#fff"/>
<path d="M217.7,149.0 L218.5,201.1 L218.6,202.1 L218.8,203.0 L219.3,203.8 L219.9,204.6 L220.6,205.3 L221.4,205.8 L222.3,206.1 L223.3,206.3 L224.2,206.4 L225.2,206.5 L226.2,206.6 L227.2,206.7 L228.1,206.8 L229.1,206.8 L230.1,206.9" fill="none" stroke="#707070" stroke-width="0.80" stroke-linejoin="round" stroke-linecap="round"/>
<path d="M217.7,149.0 L221.6,144.7" fill="none" stroke="#707070" stroke-width="0.80" stroke-linejoin="round" stroke-linecap="round"/>
<path d="M217.7,149.0 L207.9,148.1" fill="none" stroke="#444" stroke-width="0.90" stroke-linejoin="round" stroke-linecap="round"/>
<path d="M207.9,148.1 L208.7,200.2 L209.0,203.0 L209.8,205.8 L211.1,208.4 L212.9,210.8 L215.2,212.8 L217.7,214.3 L220.4,215.4 L223.3,216.0 L230.1,216.6" fill="none" stroke="#141414" stroke-width="1.80" stroke-linejoin="round" stroke-linecap="round"/>
<path d="M207.9,148.1 L211.8,143.7 L221.6,144.7 L222.4,196.7 L222.5,197.7 L222.8,198.6 L223.2,199.4 L223.8,200.2 L224.5,200.9 L225.4,201.4 L226.3,201.7 L227.2,201.9 L228.2,202.0 L229.2,202.1 L230.1,202.2 L231.2,202.2 L232.3,202.1 L233.5,201.9 L235.3,201.2" fill="none" stroke="#141414" stroke-width="1.80" stroke-linejoin="round" stroke-linecap="round"/></g>
<g id="t13"><path d="M211.0,162.0 L209.9,215.0 L209.9,216.0 L210.2,216.9 L210.7,217.7 L211.3,218.5 L212.0,219.1 L212.9,219.6 L213.8,219.9 L214.8,220.0 L215.8,220.1 L216.8,220.2 L217.7,220.2 L218.7,220.3 L219.7,220.3 L220.7,220.4 L221.7,220.4 L221.7,230.3 L214.8,229.9 L211.8,229.4 L209.0,228.4 L206.4,226.9 L204.1,225.0 L202.2,222.7 L200.8,220.1 L199.9,217.3 L199.6,214.4 L200.7,161.4Z" fill="#fff"/>
<path d="M211.0,162.0 L209.9,215.0 L209.9,216.0 L210.2,216.9 L210.7,217.7 L211.3,218.5 L212.0,219.1 L212.9,219.6 L213.8,219.9 L214.8,220.0 L215.8,220.1 L216.8,220.2 L217.7,220.2 L218.7,220.3 L219.7,220.3 L220.7,220.4 L221.7,220.4 L224.9,214.5 L223.4,215.3 L222.3,215.6 L221.2,215.7 L220.2,215.7 L219.2,215.6 L218.2,215.6 L217.2,215.5 L216.3,215.4 L215.4,215.1 L214.5,214.6 L213.8,214.0 L213.1,213.2 L212.7,212.4 L212.4,211.5 L212.3,210.5 L213.4,157.5Z" fill="#fff"/>
<path d="M211.0,162.0 L200.7,161.4 L203.2,156.9 L213.4,157.5Z" fill="#fff"/>
<path d="M211.0,162.0 L209.9,215.0 L209.9,216.0 L210.2,216.9 L210.7,217.7 L211.3,218.5 L212.0,219.1 L212.9,219.6 L213.8,219.9 L214.8,220.0 L215.8,220.1 L216.8,220.2 L217.7,220.2 L218.7,220.3 L219.7,220.3 L220.7,220.4 L221.7,220.4" fill="none" stroke="#707070" stroke-width="0.80" stroke-linejoin="round" stroke-linecap="round"/>
<path d="M211.0,162.0 L213.4,157.5" fill="none" stroke="#707070" stroke-width="0.80" stroke-linejoin="round" stroke-linecap="round"/>
<path d="M211.0,162.0 L200.7,161.4" fill="none" stroke="#444" stroke-width="0.90" stroke-linejoin="round" stroke-linecap="round"/>
<path d="M200.7,161.4 L199.6,214.4 L199.9,217.3 L200.8,220.1 L202.2,222.7 L204.1,225.0 L206.4,226.9 L209.0,228.4 L211.8,229.4 L214.8,229.9 L221.7,230.3" fill="none" stroke="#141414" stroke-width="1.80" stroke-linejoin="round" stroke-linecap="round"/>
<path d="M200.7,161.4 L203.2,156.9 L213.4,157.5 L212.3,210.5 L212.4,211.5 L212.7,212.4 L213.1,213.2 L213.8,214.0 L214.5,214.6 L215.4,215.1 L216.3,215.4 L217.2,215.5 L218.2,215.6 L219.2,215.6 L220.2,215.7 L221.2,215.7 L222.3,215.6 L223.4,215.3 L224.9,214.5" fill="none" stroke="#141414" stroke-width="1.80" stroke-linejoin="round" stroke-linecap="round"/></g>
<g id="t14"><path d="M206.7,174.3 L205.7,228.8 L205.8,229.7 L206.1,230.6 L206.5,231.5 L207.1,232.2 L207.9,232.8 L208.8,233.3 L209.7,233.5 L210.7,233.7 L211.7,233.7 L212.6,233.7 L213.6,233.7 L214.6,233.7 L215.6,233.8 L216.6,233.8 L217.6,233.8 L217.6,243.8 L210.7,243.7 L207.6,243.3 L204.7,242.4 L202.0,241.0 L199.7,239.1 L197.7,236.8 L196.3,234.3 L195.4,231.5 L195.1,228.6 L196.1,174.1Z" fill="#fff"/>
<path d="M206.7,174.3 L205.7,228.8 L205.8,229.7 L206.1,230.6 L206.5,231.5 L207.1,232.2 L207.9,232.8 L208.8,233.3 L209.7,233.5 L210.7,233.7 L211.7,233.7 L212.6,233.7 L213.6,233.7 L214.6,233.7 L215.6,233.8 L216.6,233.8 L217.6,233.8 L218.8,227.8 L217.6,228.7 L216.6,229.0 L215.6,229.1 L214.6,229.1 L213.6,229.1 L212.6,229.1 L211.6,229.1 L210.6,229.0 L209.7,228.7 L208.8,228.2 L208.1,227.6 L207.5,226.9 L207.0,226.1 L206.7,225.2 L206.6,224.3 L207.6,169.8Z" fill="#fff"/>
<path d="M206.7,174.3 L196.1,174.1 L197.1,169.5 L207.6,169.8Z" fill="#fff"/>
<path d="M206.7,174.3 L205.7,228.8 L205.8,229.7 L206.1,230.6 L206.5,231.5 L207.1,232.2 L207.9,232.8 L208.8,233.3 L209.7,233.5 L210.7,233.7 L211.7,233.7 L212.6,233.7 L213.6,233.7 L214.6,233.7 L215.6,233.8 L216.6,233.8 L217.6,233.8" fill="none" stroke="#707070" stroke-width="0.80" stroke-linejoin="round" stroke-linecap="round"/>
<path d="M206.7,174.3 L207.6,169.8" fill="none" stroke="#707070" stroke-width="0.80" stroke-linejoin="round" stroke-linecap="round"/>
<path d="M206.7,174.3 L196.1,174.1" fill="none" stroke="#444" stroke-width="0.90" stroke-linejoin="round" stroke-linecap="round"/>
<path d="M196.1,174.1 L195.1,228.6 L195.4,231.5 L196.3,234.3 L197.7,236.8 L199.7,239.1 L202.0,241.0 L204.7,242.4 L207.6,243.3 L210.7,243.7 L217.6,243.8" fill="none" stroke="#141414" stroke-width="1.80" stroke-linejoin="round" stroke-linecap="round"/>
<path d="M196.1,174.1 L197.1,169.5 L207.6,169.8 L206.6,224.3 L206.7,225.2 L207.0,226.1 L207.5,226.9 L208.1,227.6 L208.8,228.2 L209.7,228.7 L210.6,229.0 L211.6,229.1 L212.6,229.1 L213.6,229.1 L214.6,229.1 L215.6,229.1 L216.6,229.0 L217.6,228.7 L218.8,227.8" fill="none" stroke="#141414" stroke-width="1.80" stroke-linejoin="round" stroke-linecap="round"/></g>
<path d="M971.2,234.0 L971.1,231.5 L970.9,228.9 L970.5,226.4 L969.9,223.8 L969.1,221.3 L968.2,218.8 L967.1,216.2 L965.9,213.7 L964.5,211.2 L962.9,208.7 L961.2,206.2 L959.3,203.7 L957.2,201.3 L955.0,198.8 L952.6,196.4 L950.1,194.0 L947.4,191.6 L944.6,189.2 L941.5,186.8 L938.4,184.5 L935.1,182.2 L931.6,179.9 L928.0,177.6 L924.3,175.3 L920.4,173.1 L916.3,170.9 L912.1,168.8 L907.8,166.6 L903.3,164.5 L898.7,162.4 L894.0,160.4 L889.1,158.4 L884.1,156.4 L879.0,154.5 L873.7,152.5 L868.4,150.7 L862.9,148.8 L857.3,147.0 L851.5,145.3 L845.7,143.6 L839.7,141.9 L833.7,140.2 L827.5,138.6 L821.2,137.1 L814.8,135.6 L808.4,134.1 L801.8,132.7 L795.1,131.3 L788.4,129.9 L781.6,128.6 L774.6,127.4 L767.6,126.2 L760.6,125.1 L753.4,124.0 L746.2,122.9 L738.9,121.9 L731.6,120.9 L724.2,120.0 L716.7,119.2 L709.2,118.4 L701.6,117.6 L694.0,116.9 L686.3,116.3 L678.6,115.7 L670.9,115.1 L663.1,114.6 L655.3,114.2 L647.5,113.8 L639.6,113.5 L631.8,113.2 L623.9,113.0 L616.0,112.8 L608.1,112.7 L600.1,112.6 L592.2,112.6 L584.3,112.6 L576.4,112.7 L568.5,112.9 L560.6,113.1 L552.7,113.3 L544.8,113.6 L537.0,114.0 L529.2,114.4 L521.4,114.9 L513.6,115.4 L505.9,116.0 L498.2,116.6 L490.6,117.3 L483.0,118.0 L475.4,118.8 L468.0,119.6 L460.5,120.5 L453.1,121.4 L445.8,122.4 L438.6,123.4 L431.4,124.5 L424.3,125.6 L417.2,126.8 L410.3,128.0 L403.4,129.3 L396.6,130.6 L389.9,132.0 L383.3,133.4 L376.8,134.8 L370.4,136.3 L364.0,137.8 L357.8,139.4 L351.7,141.0 L345.7,142.7 L339.8,144.4 L334.0,146.2 L328.3,147.9 L322.8,149.8 L317.3,151.6 L312.0,153.5 L306.8,155.4 L301.8,157.4 L296.8,159.5 L292.0,161.8 L287.3,164.1 L282.8,166.4 L278.4,168.8 L274.2,171.3 L270.0,173.7 L266.1,176.2 L262.2,178.7 L258.6,181.2 L255.0,183.7 L251.6,186.3 L248.4,188.9 L245.3,191.4 L242.4,194.0 L239.6,196.6 L237.0,199.3 L234.6,201.9 L232.3,204.5 L230.1,207.1 L228.2,209.8 L226.3,212.4 L224.7,215.0 L223.2,217.6 L221.9,220.3 L220.7,222.9 L219.7,225.5 L218.9,228.1 L218.2,230.7 L217.7,233.3 L217.4,235.9 L217.2,238.4 L217.2,241.0 L217.4,243.5 L217.7,246.0 L218.2,248.5 L218.9,251.0 L219.7,253.5 L220.7,255.9 L221.9,258.4 L223.2,260.8 L224.7,263.2 L226.3,265.5 L228.2,267.9 L230.1,270.2 L232.3,272.5 L234.6,274.7 L237.0,277.0 L239.6,279.2 L242.4,281.4 L245.3,283.5 L248.4,285.6 L251.6,287.7 L255.0,289.8 L258.6,291.8 L262.2,293.8 L266.1,295.8 L270.0,297.7 L274.2,299.6 L278.4,301.5 L282.8,303.3 L287.3,305.2 L292.0,307.0 L296.8,308.8 L301.8,310.7 L306.8,312.6 L312.0,314.5 L317.3,316.4 L322.8,318.3 L328.3,320.1 L334.0,321.9 L339.8,323.6 L345.7,325.3 L351.7,327.0 L357.8,328.6 L364.0,330.2 L370.4,331.7 L376.8,333.2 L383.3,334.7 L389.9,336.1 L396.6,337.4 L403.4,338.8 L410.3,340.0 L417.2,341.2 L424.3,342.4 L431.4,343.5 L438.6,344.6 L445.8,345.7 L453.1,346.6 L460.5,347.6 L468.0,348.4 L475.4,349.3 L483.0,350.1 L490.6,350.8 L498.2,351.5 L505.9,352.1 L513.6,352.6 L521.4,353.2 L529.2,353.6 L537.0,354.0 L544.8,354.4 L552.7,354.7 L560.6,355.0 L568.5,355.2 L576.4,355.3 L584.3,355.4 L592.2,355.5 L600.1,355.4 L608.1,355.4 L616.0,355.3 L623.9,355.1 L631.8,354.8 L639.6,354.6 L647.5,354.2 L655.3,353.8 L663.1,353.4 L670.9,352.9 L678.6,352.4 L686.3,351.8 L694.0,351.1 L701.6,350.4 L709.2,349.7 L716.7,348.9 L724.2,348.0 L731.6,347.1 L738.9,346.1 L746.2,345.1 L753.4,344.1 L760.6,343.0 L767.6,341.8 L774.6,340.6 L781.6,339.4 L788.4,338.1 L795.1,336.8 L801.8,335.4 L808.4,334.0 L814.8,332.5 L821.2,331.0 L827.5,329.4 L833.7,327.8 L839.7,326.2 L845.7,324.5 L851.5,322.8 L857.3,321.0 L862.9,319.2 L868.4,317.4 L873.7,315.5 L879.0,313.6 L884.1,311.6 L889.1,309.7 L894.0,307.6 L898.7,305.6 L903.3,303.5 L907.8,301.4 L912.1,299.3 L916.3,297.1 L920.4,294.9 L924.3,292.7 L928.0,290.5 L931.6,288.2 L935.1,285.9 L938.4,283.6 L941.5,281.2 L944.6,278.9 L947.4,276.5 L950.1,274.1 L952.6,271.7 L955.0,269.2 L957.2,266.8 L959.3,264.3 L961.2,261.8 L962.9,259.4 L964.5,256.9 L965.9,254.3 L967.1,251.8 L968.2,249.3 L969.1,246.8 L969.9,244.2 L970.5,241.7 L970.9,239.1 L971.1,236.6 L971.2,234.0Z" fill="#fff"/>
<clipPath id="bh"><ellipse cx="640" cy="236" rx="158" ry="40.5"/></clipPath>
<ellipse cx="640" cy="236" rx="158" ry="40.5" fill="#fff" stroke="#141414" stroke-width="0.9"/>
<g clip-path="url(#bh)"><ellipse cx="640" cy="244" rx="158" ry="40.5" fill="none" stroke="#141414" stroke-width="2.2"/></g>
<path d="M482,236 A158,40.5 0 0 0 640,276.5" fill="none" stroke="#141414" stroke-width="2.2" stroke-linecap="round"/>
<path d="M483.5,226.5 A158,40.5 0 0 0 482,236" fill="none" stroke="#141414" stroke-width="1.6" stroke-linecap="round"/>
<clipPath id="h1"><ellipse cx="450.4" cy="199.4" rx="28.3" ry="9.2"/></clipPath>
<ellipse cx="450.4" cy="199.4" rx="28.3" ry="9.2" fill="#fff" stroke="#141414" stroke-width="1"/>
<path d="M422.1,199.4 A28.3,9.2 0 0 0 478.7,199.4" fill="none" stroke="#141414" stroke-width="2" stroke-linecap="round"/>
<g clip-path="url(#h1)"><ellipse cx="450.4" cy="205.2" rx="20.8" ry="6.0" fill="none" stroke="#141414" stroke-width="2"/></g>
<clipPath id="h2"><ellipse cx="434.2" cy="261.7" rx="28.3" ry="9.2"/></clipPath>
<ellipse cx="434.2" cy="261.7" rx="28.3" ry="9.2" fill="#fff" stroke="#141414" stroke-width="1"/>
<path d="M405.9,261.7 A28.3,9.2 0 0 0 462.5,261.7" fill="none" stroke="#141414" stroke-width="2" stroke-linecap="round"/>
<g clip-path="url(#h2)"><ellipse cx="434.2" cy="267.5" rx="20.8" ry="6.0" fill="none" stroke="#141414" stroke-width="2"/></g>
<clipPath id="h3"><ellipse cx="532.7" cy="176.5" rx="15.7" ry="5.5"/></clipPath>
<ellipse cx="532.7" cy="176.5" rx="15.7" ry="5.5" fill="#fff" stroke="#141414" stroke-width="1"/>
<path d="M517.0,176.5 A15.7,5.5 0 0 0 548.4,176.5" fill="none" stroke="#141414" stroke-width="2" stroke-linecap="round"/>
<g clip-path="url(#h3)"><ellipse cx="532.7" cy="178.7" rx="10.0" ry="2.5" fill="none" stroke="#141414" stroke-width="2"/></g>
<clipPath id="h4"><ellipse cx="627.0" cy="175.0" rx="27.6" ry="9.2"/></clipPath>
<ellipse cx="627.0" cy="175.0" rx="27.6" ry="9.2" fill="#fff" stroke="#141414" stroke-width="1"/>
<path d="M599.4,175.0 A27.6,9.2 0 0 0 654.6,175.0" fill="none" stroke="#141414" stroke-width="2" stroke-linecap="round"/>
<g clip-path="url(#h4)"><ellipse cx="627.0" cy="180.8" rx="20.8" ry="6.0" fill="none" stroke="#141414" stroke-width="2"/></g>
<clipPath id="h5"><ellipse cx="595.8" cy="298.0" rx="28.3" ry="9.2"/></clipPath>
<ellipse cx="595.8" cy="298.0" rx="28.3" ry="9.2" fill="#fff" stroke="#141414" stroke-width="1"/>
<path d="M567.5,298.0 A28.3,9.2 0 0 0 624.1,298.0" fill="none" stroke="#141414" stroke-width="2" stroke-linecap="round"/>
<g clip-path="url(#h5)"><ellipse cx="595.8" cy="303.8" rx="20.8" ry="6.0" fill="none" stroke="#141414" stroke-width="2"/></g>
<path d="M647.6,113.7 L650.4,113.9 L653.1,114.0 L655.9,114.2 L658.6,114.3 L661.3,114.5 L664.0,114.7 L666.8,114.8" fill="none" stroke="#141414" stroke-width="1.80" stroke-linejoin="round" stroke-linecap="round"/>
<path d="M607.3,112.6 L610.0,112.6 L612.8,112.7 L615.6,112.7 L618.4,112.8 L621.1,112.9 L623.9,112.9 L626.7,113.0" fill="none" stroke="#141414" stroke-width="1.80" stroke-linejoin="round" stroke-linecap="round"/>
<path d="M569.4,111.6 L571.8,111.8 L574.2,111.9 L576.6,112.0 L579.0,112.2 L581.4,112.3 L583.8,112.4 L586.2,112.6" fill="none" stroke="#141414" stroke-width="1.80" stroke-linejoin="round" stroke-linecap="round"/>
<path d="M528.0,113.6 L531.3,113.6 L534.6,113.6 L537.9,113.6 L541.2,113.7 L544.5,113.7 L547.8,113.8 L551.1,113.8" fill="none" stroke="#141414" stroke-width="1.80" stroke-linejoin="round" stroke-linecap="round"/>
<path d="M487.8,116.9 L490.9,116.8 L494.1,116.6 L497.3,116.5 L500.5,116.3 L503.6,116.2 L506.8,116.1 L510.0,116.0" fill="none" stroke="#141414" stroke-width="1.80" stroke-linejoin="round" stroke-linecap="round"/>
<path d="M449.1,121.5 L452.1,121.2 L455.1,120.9 L458.1,120.6 L461.1,120.4 L464.1,120.1 L467.1,119.8 L470.2,119.6" fill="none" stroke="#141414" stroke-width="1.80" stroke-linejoin="round" stroke-linecap="round"/>
<path d="M411.8,127.4 L414.7,127.0 L417.6,126.6 L420.5,126.2 L423.4,125.8 L426.3,125.4 L429.2,125.0 L432.1,124.6" fill="none" stroke="#141414" stroke-width="1.80" stroke-linejoin="round" stroke-linecap="round"/>
<path d="M377.2,134.6 L379.9,134.0 L382.6,133.4 L385.3,132.9 L388.0,132.4 L390.8,131.8 L393.5,131.3 L396.3,130.8" fill="none" stroke="#141414" stroke-width="1.80" stroke-linejoin="round" stroke-linecap="round"/>
<path d="M345.2,142.8 L347.6,142.1 L350.1,141.4 L352.5,140.8 L355.0,140.2 L357.4,139.5 L359.9,138.9 L362.4,138.3" fill="none" stroke="#141414" stroke-width="1.80" stroke-linejoin="round" stroke-linecap="round"/>
<path d="M316.3,151.9 L318.4,151.2 L320.6,150.4 L322.7,149.7 L324.9,149.0 L327.1,148.3 L329.3,147.6 L331.6,146.9" fill="none" stroke="#141414" stroke-width="1.80" stroke-linejoin="round" stroke-linecap="round"/>
<path d="M290.5,162.4 L292.4,161.5 L294.3,160.6 L296.2,159.7 L298.1,158.8 L300.1,158.0 L302.1,157.2 L304.1,156.4" fill="none" stroke="#141414" stroke-width="1.80" stroke-linejoin="round" stroke-linecap="round"/>
<path d="M268.3,174.7 L269.9,173.7 L271.5,172.7 L273.1,171.8 L274.8,170.8 L276.5,169.9 L278.2,168.9 L279.9,168.0" fill="none" stroke="#141414" stroke-width="1.80" stroke-linejoin="round" stroke-linecap="round"/>
<path d="M249.8,187.6 L251.1,186.6 L252.4,185.6 L253.8,184.6 L255.1,183.6 L256.5,182.6 L257.9,181.6 L259.4,180.6" fill="none" stroke="#141414" stroke-width="1.80" stroke-linejoin="round" stroke-linecap="round"/>
<path d="M235.3,200.9 L236.3,199.9 L237.3,198.8 L238.3,197.8 L239.4,196.8 L240.5,195.8 L241.6,194.7 L242.7,193.7" fill="none" stroke="#141414" stroke-width="1.80" stroke-linejoin="round" stroke-linecap="round"/>
<path d="M224.9,214.3 L225.6,213.3 L226.3,212.3 L227.0,211.2 L227.7,210.2 L228.5,209.2 L229.3,208.1 L230.1,207.1" fill="none" stroke="#141414" stroke-width="1.80" stroke-linejoin="round" stroke-linecap="round"/>
<path d="M218.8,227.7 L219.1,226.7 L219.5,225.7 L219.9,224.6 L220.3,223.6 L220.7,222.6 L221.2,221.6 L221.7,220.5" fill="none" stroke="#141414" stroke-width="1.80" stroke-linejoin="round" stroke-linecap="round"/>
<path d="M602.9,104.9 L602.9,105.8 L602.8,106.8 L602.8,107.6 L602.8,108.4 L602.8,109.1 L602.8,109.7 L602.8,110.1 L602.8,110.4 L602.8,110.8 L602.8,111.2 L602.9,111.5 L603.4,111.9 L604.3,112.2 L607.3,112.6" fill="none" stroke="#141414" stroke-width="1.80" stroke-linejoin="round" stroke-linecap="round"/>
<path d="M586.2,111.2 L586.2,111.5 L586.2,111.9 L586.2,112.2 L586.2,112.6" fill="none" stroke="#707070" stroke-width="0.80" stroke-linejoin="round" stroke-linecap="round"/>
<path d="M560.8,104.8 L560.9,105.7 L561.0,106.6 L561.3,107.4 L561.5,108.2 L561.8,108.9 L562.1,109.4 L562.5,109.8 L562.9,110.1 L563.2,110.5 L563.6,110.8 L564.1,111.1 L565.0,111.4 L566.2,111.6 L569.4,111.6" fill="none" stroke="#141414" stroke-width="1.80" stroke-linejoin="round" stroke-linecap="round"/>
<path d="M549.5,112.5 L549.9,112.8 L550.3,113.1 L550.7,113.5 L551.1,113.8" fill="none" stroke="#707070" stroke-width="0.80" stroke-linejoin="round" stroke-linecap="round"/>
<path d="M644.7,105.9 L644.6,106.9 L644.5,107.8 L644.4,108.7 L644.3,109.5 L644.2,110.2 L644.1,110.7 L644.0,111.1 L643.9,111.5 L643.8,111.8 L643.6,112.2 L643.7,112.5 L644.0,112.9 L644.8,113.3 L647.6,113.7" fill="none" stroke="#141414" stroke-width="1.80" stroke-linejoin="round" stroke-linecap="round"/>
<path d="M627.1,111.6 L627.0,111.9 L626.9,112.3 L626.8,112.7 L626.7,113.0" fill="none" stroke="#707070" stroke-width="0.80" stroke-linejoin="round" stroke-linecap="round"/>
<path d="M519.0,106.9 L519.1,107.8 L519.3,108.7 L519.6,109.5 L519.9,110.3 L520.2,111.0 L520.5,111.5 L520.9,111.9 L521.3,112.2 L521.7,112.5 L522.2,112.8 L522.7,113.2 L523.6,113.4 L524.9,113.6 L528.0,113.6" fill="none" stroke="#141414" stroke-width="1.80" stroke-linejoin="round" stroke-linecap="round"/>
<path d="M508.3,114.7 L508.7,115.0 L509.1,115.3 L509.5,115.7 L510.0,116.0" fill="none" stroke="#707070" stroke-width="0.80" stroke-linejoin="round" stroke-linecap="round"/>
<path d="M685.8,108.4 L685.7,109.3 L685.6,110.2 L685.4,111.1 L685.3,111.9 L685.1,112.6 L684.8,113.1 L684.6,113.5 L684.4,113.9 L684.2,114.2 L683.9,114.6 L683.8,114.9 L684.1,115.3 L684.7,115.7 L687.4,116.3" fill="none" stroke="#141414" stroke-width="1.80" stroke-linejoin="round" stroke-linecap="round"/>
<path d="M667.7,113.4 L667.5,113.8 L667.2,114.1 L667.0,114.5 L666.8,114.8" fill="none" stroke="#707070" stroke-width="0.80" stroke-linejoin="round" stroke-linecap="round"/>
<path d="M478.3,110.3 L478.4,111.3 L478.6,112.1 L478.9,113.0 L479.2,113.7 L479.6,114.4 L480.0,114.9 L480.4,115.3 L480.9,115.6 L481.3,115.9 L481.8,116.2 L482.4,116.5 L483.3,116.8 L484.6,117.0 L487.8,116.9" fill="none" stroke="#141414" stroke-width="1.80" stroke-linejoin="round" stroke-linecap="round"/>
<path d="M468.3,118.3 L468.7,118.6 L469.2,119.0 L469.7,119.3 L470.2,119.6" fill="none" stroke="#707070" stroke-width="0.80" stroke-linejoin="round" stroke-linecap="round"/>
<path d="M438.9,115.1 L439.1,116.0 L439.3,116.9 L439.6,117.8 L440.0,118.5 L440.4,119.2 L440.9,119.7 L441.4,120.0 L441.9,120.3 L442.5,120.7 L443.0,121.0 L443.7,121.2 L444.6,121.5 L446.0,121.6 L449.1,121.5" fill="none" stroke="#141414" stroke-width="1.80" stroke-linejoin="round" stroke-linecap="round"/>
<path d="M430.0,123.3 L430.5,123.7 L431.0,124.0 L431.6,124.3 L432.1,124.6" fill="none" stroke="#707070" stroke-width="0.80" stroke-linejoin="round" stroke-linecap="round"/>
<path d="M401.1,121.2 L401.3,122.1 L401.5,123.1 L401.9,123.9 L402.3,124.7 L402.8,125.3 L403.3,125.8 L403.9,126.2 L404.5,126.5 L405.1,126.8 L405.7,127.1 L406.4,127.3 L407.4,127.5 L408.8,127.7 L411.8,127.4" fill="none" stroke="#141414" stroke-width="1.80" stroke-linejoin="round" stroke-linecap="round"/>
<path d="M393.9,129.6 L394.5,129.9 L395.1,130.2 L395.7,130.5 L396.3,130.8" fill="none" stroke="#707070" stroke-width="0.80" stroke-linejoin="round" stroke-linecap="round"/>
<path d="M365.9,128.6 L366.1,129.5 L366.4,130.4 L366.8,131.3 L367.3,132.1 L367.8,132.7 L368.4,133.2 L369.0,133.5 L369.6,133.8 L370.3,134.1 L371.0,134.4 L371.8,134.6 L372.8,134.8 L374.2,134.9 L377.2,134.6" fill="none" stroke="#141414" stroke-width="1.80" stroke-linejoin="round" stroke-linecap="round"/>
<path d="M359.8,137.2 L360.4,137.4 L361.1,137.7 L361.8,138.0 L362.4,138.3" fill="none" stroke="#707070" stroke-width="0.80" stroke-linejoin="round" stroke-linecap="round"/>
<path d="M333.3,136.9 L333.6,137.9 L333.9,138.8 L334.4,139.7 L334.9,140.5 L335.5,141.2 L336.2,141.7 L336.8,142.0 L337.6,142.2 L338.3,142.5 L339.0,142.7 L339.9,142.9 L341.0,143.1 L342.4,143.1 L345.2,142.8" fill="none" stroke="#141414" stroke-width="1.80" stroke-linejoin="round" stroke-linecap="round"/>
<path d="M328.7,145.9 L329.4,146.1 L330.1,146.4 L330.8,146.6 L331.6,146.9" fill="none" stroke="#707070" stroke-width="0.80" stroke-linejoin="round" stroke-linecap="round"/>
<path d="M304.0,146.4 L304.2,147.4 L304.6,148.4 L305.0,149.2 L305.6,150.0 L306.3,150.6 L307.0,151.1 L307.7,151.4 L308.5,151.6 L309.3,151.9 L310.1,152.1 L311.1,152.3 L312.2,152.4 L313.6,152.4 L316.3,151.9" fill="none" stroke="#141414" stroke-width="1.80" stroke-linejoin="round" stroke-linecap="round"/>
<path d="M300.9,155.6 L301.7,155.8 L302.5,156.0 L303.3,156.2 L304.1,156.4" fill="none" stroke="#707070" stroke-width="0.80" stroke-linejoin="round" stroke-linecap="round"/>
<path d="M277.9,157.8 L278.1,158.8 L278.5,159.7 L279.0,160.5 L279.6,161.3 L280.3,161.9 L281.1,162.3 L281.9,162.6 L282.8,162.8 L283.6,163.0 L284.5,163.2 L285.5,163.3 L286.6,163.4 L288.0,163.3 L290.5,162.8" fill="none" stroke="#141414" stroke-width="1.80" stroke-linejoin="round" stroke-linecap="round"/>
<path d="M276.4,166.9 L277.3,167.1 L278.2,167.3 L279.0,167.5 L279.9,167.7" fill="none" stroke="#707070" stroke-width="0.80" stroke-linejoin="round" stroke-linecap="round"/>
<path d="M255.4,170.6 L255.7,171.5 L256.1,172.5 L256.6,173.3 L257.3,174.0 L258.1,174.6 L258.9,175.0 L259.7,175.2 L260.7,175.4 L261.6,175.5 L262.5,175.7 L263.5,175.8 L264.7,175.8 L266.0,175.7 L268.3,175.1" fill="none" stroke="#141414" stroke-width="1.80" stroke-linejoin="round" stroke-linecap="round"/>
<path d="M255.7,179.7 L256.6,179.9 L257.5,180.0 L258.5,180.2 L259.4,180.3" fill="none" stroke="#707070" stroke-width="0.80" stroke-linejoin="round" stroke-linecap="round"/>
<path d="M236.9,184.0 L237.2,184.9 L237.6,185.8 L238.2,186.6 L238.9,187.3 L239.7,187.8 L240.5,188.2 L241.4,188.4 L242.4,188.5 L243.3,188.6 L244.3,188.8 L245.3,188.8 L246.5,188.8 L247.8,188.7 L249.8,187.9" fill="none" stroke="#141414" stroke-width="1.80" stroke-linejoin="round" stroke-linecap="round"/>
<path d="M238.9,193.0 L239.9,193.1 L240.8,193.3 L241.8,193.4 L242.7,193.5" fill="none" stroke="#707070" stroke-width="0.80" stroke-linejoin="round" stroke-linecap="round"/>
<path d="M222.5,197.7 L222.8,198.6 L223.2,199.4 L223.8,200.2 L224.5,200.9 L225.4,201.4 L226.3,201.7 L227.2,201.9 L228.2,202.0 L229.2,202.1 L230.1,202.2 L231.2,202.2 L232.3,202.1 L233.5,201.9 L235.3,201.2" fill="none" stroke="#141414" stroke-width="1.80" stroke-linejoin="round" stroke-linecap="round"/>
<path d="M226.2,206.6 L227.2,206.7 L228.1,206.8 L229.1,206.8 L230.1,206.9" fill="none" stroke="#707070" stroke-width="0.80" stroke-linejoin="round" stroke-linecap="round"/>
<path d="M212.4,211.5 L212.7,212.4 L213.1,213.2 L213.8,214.0 L214.5,214.6 L215.4,215.1 L216.3,215.4 L217.2,215.5 L218.2,215.6 L219.2,215.6 L220.2,215.7 L221.2,215.7 L222.3,215.6 L223.4,215.3 L224.9,214.5" fill="none" stroke="#141414" stroke-width="1.80" stroke-linejoin="round" stroke-linecap="round"/>
<path d="M217.7,220.2 L218.7,220.3 L219.7,220.3 L220.7,220.4 L221.7,220.4" fill="none" stroke="#707070" stroke-width="0.80" stroke-linejoin="round" stroke-linecap="round"/>
<path d="M206.7,225.2 L207.0,226.1 L207.5,226.9 L208.1,227.6 L208.8,228.2 L209.7,228.7 L210.6,229.0 L211.6,229.1 L212.6,229.1 L213.6,229.1 L214.6,229.1 L215.6,229.1 L216.6,229.0 L217.6,228.7 L218.8,227.8" fill="none" stroke="#141414" stroke-width="1.80" stroke-linejoin="round" stroke-linecap="round"/>
<path d="M213.6,233.7 L214.6,233.7 L215.6,233.8 L216.6,233.8 L217.6,233.8" fill="none" stroke="#707070" stroke-width="0.80" stroke-linejoin="round" stroke-linecap="round"/>
<path d="M197.0,226.5 L199.8,241.1 L202.6,247.6 L205.4,252.1 L208.1,255.6 L210.9,258.8 L213.7,261.6 L216.5,264.2 L219.3,266.8 L222.1,269.4 L224.9,272.2 L227.6,274.9 L230.4,277.5 L233.2,279.8 L236.0,281.9 L238.8,283.8 L241.6,285.5 L244.4,287.2 L247.2,288.9 L249.9,290.5 L252.7,292.1 L255.5,293.7 L258.3,295.3 L261.1,296.8 L263.9,298.3 L266.7,299.8 L269.4,301.2 L272.2,302.6 L275.0,304.0 L277.8,305.3 L280.6,306.6 L283.4,307.9 L286.2,309.2 L288.9,310.4 L291.7,311.7 L294.5,312.9 L297.3,314.0 L300.1,315.2 L302.9,316.2 L305.7,317.3 L308.4,318.3 L311.2,319.2 L314.0,320.2 L316.8,321.0 L319.6,321.9 L322.4,322.7 L325.2,323.4 L327.9,324.2 L330.7,324.9 L333.5,325.5 L336.3,326.1 L339.1,326.8 L341.9,327.5 L344.7,328.3 L347.5,329.1 L350.2,329.9 L353.0,330.7 L355.8,331.5 L358.6,332.4 L361.4,333.3 L364.2,334.1 L367.0,334.9 L369.7,335.8 L372.5,336.6 L375.3,337.4 L378.1,338.1 L380.9,338.8 L383.7,339.5 L386.5,340.2 L389.2,340.9 L392.0,341.7 L394.8,342.3 L397.6,343.0 L400.4,343.7 L403.2,344.4 L406.0,345.0 L408.7,345.6 L411.5,346.2 L414.3,346.8 L417.1,347.4 L419.9,347.9 L422.7,348.4 L425.5,348.9 L428.3,349.3 L431.0,349.7 L433.8,350.2 L436.6,350.6 L439.4,351.0 L442.2,351.4 L445.0,351.8 L447.8,352.1 L450.5,352.5 L453.3,352.8 L456.1,353.2 L458.9,353.5 L461.7,353.8 L464.5,354.1 L467.3,354.4 L470.0,354.7 L472.8,355.0 L475.6,355.3 L478.4,355.5 L481.2,355.8 L484.0,356.0 L486.8,356.3 L489.5,356.5 L492.3,356.8 L495.1,357.0 L497.9,357.3 L500.7,357.5 L503.5,357.7 L506.3,357.9 L509.1,358.2 L511.8,358.4 L514.6,358.6 L517.4,358.8 L520.2,358.9 L523.0,359.1 L525.8,359.3 L528.6,359.4 L531.3,359.6 L534.1,359.7 L536.9,359.8 L539.7,360.0 L542.5,360.0 L545.3,360.1 L548.1,360.2 L550.8,360.3 L553.6,360.3 L556.4,360.4 L559.2,360.4 L562.0,360.5 L564.8,360.6 L567.6,360.6 L570.3,360.6 L573.1,360.7 L575.9,360.7 L578.7,360.7 L581.5,360.8 L584.3,360.8 L587.1,360.8 L589.8,360.8 L592.6,360.8 L595.4,360.9 L598.2,360.9 L601.0,360.9 L603.8,360.9 L606.6,360.9 L609.4,360.9 L612.1,360.9 L614.9,361.0 L617.7,361.0 L620.5,361.0 L623.3,361.0 L626.1,361.0 L628.9,361.0 L631.6,361.0 L634.4,361.0 L637.2,361.0 L640.0,361.0 L640.0,368.8 L637.2,368.8 L634.4,368.8 L631.6,368.8 L628.9,368.8 L626.1,368.8 L623.3,368.8 L620.5,368.8 L617.7,368.8 L614.9,368.8 L612.1,368.7 L609.4,368.7 L606.6,368.7 L603.8,368.7 L601.0,368.7 L598.2,368.7 L595.4,368.7 L592.6,368.6 L589.8,368.6 L587.1,368.6 L584.3,368.6 L581.5,368.6 L578.7,368.5 L575.9,368.5 L573.1,368.5 L570.3,368.4 L567.6,368.4 L564.8,368.3 L562.0,368.3 L559.2,368.2 L556.4,368.2 L553.6,368.1 L550.8,368.0 L548.1,368.0 L545.3,367.9 L542.5,367.8 L539.7,367.7 L536.9,367.6 L534.1,367.5 L531.3,367.4 L528.6,367.2 L525.8,367.1 L523.0,366.9 L520.2,366.7 L517.4,366.5 L514.6,366.3 L511.8,366.1 L509.1,365.9 L506.3,365.7 L503.5,365.5 L500.7,365.2 L497.9,365.0 L495.1,364.8 L492.3,364.5 L489.5,364.3 L486.8,364.0 L484.0,363.8 L481.2,363.5 L478.4,363.3 L475.6,363.0 L472.8,362.7 L470.0,362.4 L467.3,362.1 L464.5,361.8 L461.7,361.5 L458.9,361.2 L456.1,360.9 L453.3,360.5 L450.5,360.2 L447.8,359.8 L445.0,359.4 L442.2,359.0 L439.4,358.6 L436.6,358.2 L433.8,357.8 L431.0,357.4 L428.3,356.9 L425.5,356.5 L422.7,356.0 L419.9,355.5 L417.1,355.0 L414.3,354.4 L411.5,353.8 L408.7,353.2 L406.0,352.6 L403.2,351.9 L400.4,351.3 L397.6,350.6 L394.8,349.9 L392.0,349.2 L389.2,348.5 L386.5,347.8 L383.7,347.0 L380.9,346.3 L378.1,345.6 L375.3,344.8 L372.5,344.1 L369.7,343.2 L367.0,342.4 L364.2,341.6 L361.4,340.7 L358.6,339.8 L355.8,339.0 L353.0,338.1 L350.2,337.3 L347.5,336.5 L344.7,335.7 L341.9,334.9 L339.1,334.2 L336.3,333.5 L333.5,332.9 L330.7,332.2 L327.9,331.5 L325.2,330.8 L322.4,330.0 L319.6,329.2 L316.8,328.3 L314.0,327.4 L311.2,326.5 L308.4,325.6 L305.7,324.5 L302.9,323.5 L300.1,322.4 L297.3,321.3 L294.5,320.1 L291.7,318.9 L288.9,317.6 L286.2,316.4 L283.4,315.1 L280.6,313.8 L277.8,312.4 L275.0,311.1 L272.2,309.7 L269.4,308.3 L266.7,306.9 L263.9,305.4 L261.1,303.9 L258.3,302.4 L255.5,300.8 L252.7,299.2 L249.9,297.6 L247.2,295.9 L244.4,294.2 L241.6,292.5 L238.8,290.7 L236.0,288.8 L233.2,286.7 L230.4,284.4 L227.6,281.8 L224.9,279.1 L222.1,276.3 L219.3,273.7 L216.5,271.1 L213.7,268.5 L210.9,265.6 L208.1,262.4 L205.4,258.9 L202.6,254.4 L199.8,247.9 L197.0,233.3Z" fill="#fff"/>
<path d="M197.0,233.7 L199.8,248.3 L202.6,254.8 L205.4,259.3 L208.1,262.8 L210.9,266.0 L213.7,268.9 L216.5,271.5 L219.3,274.1 L222.1,276.7 L224.9,279.5 L227.6,282.2 L230.4,284.8 L233.2,287.1 L236.0,289.2 L238.8,291.1 L241.6,292.9 L244.4,294.6 L247.2,296.3 L249.9,298.0 L252.7,299.6 L255.5,301.2 L258.3,302.8 L261.1,304.3 L263.9,305.8 L266.7,307.3 L269.4,308.7 L272.2,310.1 L275.0,311.5 L277.8,312.8 L280.6,314.2 L283.4,315.5 L286.2,316.8 L288.9,318.0 L291.7,319.3 L294.5,320.5 L297.3,321.7 L300.1,322.8 L302.9,323.9 L305.7,324.9 L308.4,326.0 L311.2,326.9 L314.0,327.8 L316.8,328.7 L319.6,329.6 L322.4,330.4 L325.2,331.2 L327.9,331.9 L330.7,332.6 L333.5,333.3 L336.3,333.9 L339.1,334.6 L341.9,335.3 L344.7,336.1 L347.5,336.9 L350.2,337.7 L353.0,338.5 L355.8,339.4 L358.6,340.2 L361.4,341.1 L364.2,342.0 L367.0,342.8 L369.7,343.6 L372.5,344.5 L375.3,345.2 L378.1,346.0 L380.9,346.7 L383.7,347.4 L386.5,348.2 L389.2,348.9 L392.0,349.6 L394.8,350.3 L397.6,351.0 L400.4,351.7 L403.2,352.3 L406.0,353.0 L408.7,353.6 L411.5,354.2 L414.3,354.8 L417.1,355.4 L419.9,355.9 L422.7,356.4 L425.5,356.9 L428.3,357.3 L431.0,357.8 L433.8,358.2 L436.6,358.6 L439.4,359.0 L442.2,359.4 L445.0,359.8 L447.8,360.2 L450.5,360.6 L453.3,360.9 L456.1,361.3 L458.9,361.6 L461.7,361.9 L464.5,362.2 L467.3,362.5 L470.0,362.8 L472.8,363.1 L475.6,363.4 L478.4,363.7 L481.2,363.9 L484.0,364.2 L486.8,364.4 L489.5,364.7 L492.3,364.9 L495.1,365.2 L497.9,365.4 L500.7,365.6 L503.5,365.9 L506.3,366.1 L509.1,366.3 L511.8,366.5 L514.6,366.7 L517.4,366.9 L520.2,367.1 L523.0,367.3 L525.8,367.5 L528.6,367.6 L531.3,367.8 L534.1,367.9 L536.9,368.0 L539.7,368.1 L542.5,368.2 L545.3,368.3 L548.1,368.4 L550.8,368.4 L553.6,368.5 L556.4,368.6 L559.2,368.6 L562.0,368.7 L564.8,368.7 L567.6,368.8 L570.3,368.8 L573.1,368.9 L575.9,368.9 L578.7,368.9 L581.5,369.0 L584.3,369.0 L587.1,369.0 L589.8,369.0 L592.6,369.0 L595.4,369.1 L598.2,369.1 L601.0,369.1 L603.8,369.1 L606.6,369.1 L609.4,369.1 L612.1,369.1 L614.9,369.2 L617.7,369.2 L620.5,369.2 L623.3,369.2 L626.1,369.2 L628.9,369.2 L631.6,369.2 L634.4,369.2 L637.2,369.2 L640.0,369.2" fill="none" stroke="#141414" stroke-width="1.80" stroke-linejoin="round" stroke-linecap="round"/>
<g id="t15"><path d="M194.7,185.8 L195.5,199.9 L196.8,213.9 L198.2,228.0 L199.9,242.0 L201.6,256.1 L201.8,258.1 L202.3,259.8 L203.1,261.2 L204.2,262.3 L205.6,263.1 L207.2,263.6 L209.1,263.9 L209.1,263.6 L212.6,267.4 L216.1,270.7 L219.5,273.9 L223.0,277.2 L226.5,280.7 L224.5,268.7 L220.5,267.9 L218.5,267.7 L216.9,267.3 L215.5,266.5 L214.4,265.4 L213.7,264.1 L213.2,262.4 L213.0,260.4 L211.2,246.4 L209.6,232.3 L208.1,218.3 L206.9,204.3 L206.0,190.3Z" fill="#fff"/>
<path d="M194.7,185.8 L195.2,190.4 L206.0,190.3 L205.4,185.7Z" fill="#fff"/>
<path d="M195.2,190.4 L196.1,203.1 L197.4,215.7 L198.8,228.4 L200.4,241.1 L202.2,253.7 L202.4,255.7 L202.9,257.4 L203.7,258.9 L204.8,260.0 L206.1,260.8 L207.8,261.3 L209.7,261.5 L214.3,266.5 L218.9,271.2 L223.5,276.1" fill="none" stroke="#707070" stroke-width="0.80" stroke-linejoin="round" stroke-linecap="round"/>
<path d="M194.7,185.8 L195.2,190.4 L206.0,190.3" fill="none" stroke="#555" stroke-width="0.80" stroke-linejoin="round" stroke-linecap="round"/>
<path d="M209.1,263.9 L207.2,263.6 L205.6,263.1 L204.2,262.3 L203.1,261.2 L202.3,259.8 L201.8,258.1 L201.6,256.1 L199.9,242.0 L198.2,228.0 L196.8,213.9 L195.5,199.9 L194.7,185.8 L205.4,185.7 L206.0,190.3 L206.9,204.3 L208.1,218.3 L209.6,232.3 L211.2,246.4 L213.0,260.4 L213.2,262.4 L213.7,264.1 L214.4,265.4 L215.5,266.5 L216.9,267.3 L218.5,267.7 L220.5,267.9 L220.6,268.0 L220.7,268.1 L220.8,268.2 L220.9,268.3 L221.0,268.4" fill="none" stroke="#141414" stroke-width="1.80" stroke-linejoin="round" stroke-linecap="round"/></g>
<g id="t16"><path d="M197.8,199.6 L198.7,211.6 L199.9,223.5 L201.3,235.4 L202.8,247.3 L204.5,259.2 L204.7,261.3 L205.2,263.0 L206.0,264.4 L207.1,265.6 L208.5,266.4 L210.2,266.9 L212.1,267.2 L212.1,266.9 L215.9,270.5 L219.6,274.0 L223.4,277.6 L227.2,281.3 L230.9,284.8 L228.9,273.1 L224.9,272.3 L223.0,272.1 L221.3,271.6 L220.0,270.9 L218.9,269.8 L218.1,268.4 L217.6,266.7 L217.4,264.8 L215.8,252.5 L214.2,240.3 L212.8,228.1 L211.6,215.9 L210.8,203.6Z" fill="#fff"/>
<path d="M197.8,199.6 L199.9,204.2 L210.8,203.6 L208.7,199.1Z" fill="#fff"/>
<path d="M199.9,204.2 L200.8,215.0 L202.0,225.8 L203.4,236.7 L204.9,247.5 L206.6,258.3 L206.8,260.4 L207.3,262.1 L208.1,263.5 L209.2,264.7 L210.6,265.5 L212.2,266.0 L214.2,266.3 L218.8,270.6 L223.4,275.5 L227.9,280.4" fill="none" stroke="#707070" stroke-width="0.80" stroke-linejoin="round" stroke-linecap="round"/>
<path d="M197.8,199.6 L199.9,204.2 L210.8,203.6" fill="none" stroke="#555" stroke-width="0.80" stroke-linejoin="round" stroke-linecap="round"/>
<path d="M212.1,267.2 L210.2,266.9 L208.5,266.4 L207.1,265.6 L206.0,264.4 L205.2,263.0 L204.7,261.3 L204.5,259.2 L202.8,247.3 L201.3,235.4 L199.9,223.5 L198.7,211.6 L197.8,199.6 L208.7,199.1 L210.8,203.6 L211.6,215.9 L212.8,228.1 L214.2,240.3 L215.8,252.5 L217.4,264.8 L217.6,266.7 L218.1,268.4 L218.9,269.8 L220.0,270.9 L221.3,271.6 L223.0,272.1 L224.9,272.3 L225.0,272.3 L225.1,272.4 L225.2,272.5 L225.3,272.6 L225.4,272.7" fill="none" stroke="#141414" stroke-width="1.80" stroke-linejoin="round" stroke-linecap="round"/></g>
<g id="t17"><path d="M206.6,213.6 L207.4,224.3 L208.4,234.9 L209.7,245.6 L211.1,256.2 L212.6,266.9 L212.8,269.0 L213.3,270.8 L214.1,272.3 L215.3,273.4 L216.7,274.3 L218.4,274.8 L220.5,275.1 L220.5,274.8 L224.5,278.7 L228.5,282.6 L232.5,286.1 L236.5,289.2 L240.5,291.8 L238.5,281.6 L234.5,280.8 L232.5,280.6 L230.9,280.1 L229.5,279.4 L228.4,278.3 L227.7,276.9 L227.2,275.2 L227.0,273.3 L225.5,262.0 L224.1,250.8 L222.8,239.6 L221.7,228.4 L221.0,217.2Z" fill="#fff"/>
<path d="M206.6,213.6 L210.2,218.1 L221.0,217.2 L217.4,212.7Z" fill="#fff"/>
<path d="M210.2,218.1 L210.9,227.9 L212.0,237.8 L213.3,247.7 L214.7,257.5 L216.2,267.4 L216.4,269.5 L216.9,271.3 L217.7,272.8 L218.8,273.9 L220.3,274.8 L222.0,275.4 L224.1,275.6 L228.5,280.1 L233.0,284.5 L237.5,288.2" fill="none" stroke="#707070" stroke-width="0.80" stroke-linejoin="round" stroke-linecap="round"/>
<path d="M206.6,213.6 L210.2,218.1 L221.0,217.2" fill="none" stroke="#555" stroke-width="0.80" stroke-linejoin="round" stroke-linecap="round"/>
<path d="M220.5,275.1 L218.4,274.8 L216.7,274.3 L215.3,273.4 L214.1,272.3 L213.3,270.8 L212.8,269.0 L212.6,266.9 L211.1,256.2 L209.7,245.6 L208.4,234.9 L207.4,224.3 L206.6,213.6 L217.4,212.7 L221.0,217.2 L221.7,228.4 L222.8,239.6 L224.1,250.8 L225.5,262.0 L227.0,273.3 L227.2,275.2 L227.7,276.9 L228.4,278.3 L229.5,279.4 L230.9,280.1 L232.5,280.6 L234.5,280.8 L234.6,280.8 L234.7,280.9 L234.8,281.0 L234.9,281.1 L235.0,281.1" fill="none" stroke="#141414" stroke-width="1.80" stroke-linejoin="round" stroke-linecap="round"/></g>
<g id="t18"><path d="M219.8,227.8 L220.4,237.9 L221.3,248.0 L222.3,258.1 L223.5,268.2 L224.8,278.3 L225.0,280.5 L225.5,282.4 L226.4,284.0 L227.6,285.2 L229.1,286.1 L230.9,286.7 L233.1,286.9 L233.1,286.6 L237.2,289.7 L241.4,292.4 L245.6,294.9 L249.7,297.4 L253.9,299.9 L251.9,290.1 L247.9,289.3 L246.0,289.2 L244.3,288.7 L242.9,288.0 L241.9,286.9 L241.1,285.5 L240.6,283.8 L240.4,281.8 L239.1,271.6 L238.0,261.4 L236.9,251.2 L236.0,241.0 L235.4,230.8Z" fill="#fff"/>
<path d="M219.8,227.8 L224.8,232.1 L235.4,230.8 L230.4,226.5Z" fill="#fff"/>
<path d="M224.8,232.1 L225.4,241.5 L226.3,250.8 L227.4,260.2 L228.5,269.6 L229.8,279.0 L230.0,281.2 L230.6,283.1 L231.4,284.6 L232.6,285.9 L234.1,286.8 L236.0,287.3 L238.1,287.6 L242.4,290.4 L246.6,293.4 L250.9,296.4" fill="none" stroke="#707070" stroke-width="0.80" stroke-linejoin="round" stroke-linecap="round"/>
<path d="M219.8,227.8 L224.8,232.1 L235.4,230.8" fill="none" stroke="#555" stroke-width="0.80" stroke-linejoin="round" stroke-linecap="round"/>
<path d="M233.1,286.9 L230.9,286.7 L229.1,286.1 L227.6,285.2 L226.4,284.0 L225.5,282.4 L225.0,280.5 L224.8,278.3 L223.5,268.2 L222.3,258.1 L221.3,248.0 L220.4,237.9 L219.8,227.8 L230.4,226.5 L235.4,230.8 L236.0,241.0 L236.9,251.2 L238.0,261.4 L239.1,271.6 L240.4,281.8 L240.6,283.8 L241.1,285.5 L241.9,286.9 L242.9,288.0 L244.3,288.7 L246.0,289.2 L247.9,289.3 L248.0,289.4 L248.1,289.4 L248.2,289.5 L248.3,289.6 L248.4,289.6" fill="none" stroke="#141414" stroke-width="1.80" stroke-linejoin="round" stroke-linecap="round"/></g>
<g id="t19"><path d="M236.4,242.6 L236.9,251.7 L237.5,260.8 L238.3,269.9 L239.2,279.0 L240.1,288.1 L240.4,290.5 L241.0,292.5 L241.9,294.2 L243.2,295.5 L244.8,296.4 L246.7,297.0 L249.0,297.3 L249.0,297.0 L253.3,299.5 L257.5,301.9 L261.8,304.3 L266.1,306.6 L270.4,308.8 L268.4,299.4 L264.4,298.6 L262.4,298.4 L260.8,298.0 L259.4,297.2 L258.3,296.1 L257.6,294.8 L257.1,293.1 L256.9,291.1 L255.9,281.9 L255.0,272.6 L254.2,263.4 L253.6,254.2 L253.1,245.0Z" fill="#fff"/>
<path d="M236.4,242.6 L242.8,246.6 L253.1,245.0 L246.7,240.9Z" fill="#fff"/>
<path d="M242.8,246.6 L243.3,255.1 L244.0,263.5 L244.8,272.0 L245.6,280.4 L246.6,288.9 L246.8,291.2 L247.4,293.3 L248.3,294.9 L249.6,296.2 L251.2,297.2 L253.1,297.8 L255.4,298.1 L259.4,300.4 L263.4,303.0 L267.4,305.5" fill="none" stroke="#707070" stroke-width="0.80" stroke-linejoin="round" stroke-linecap="round"/>
<path d="M236.4,242.6 L242.8,246.6 L253.1,245.0" fill="none" stroke="#555" stroke-width="0.80" stroke-linejoin="round" stroke-linecap="round"/>
<path d="M249.0,297.3 L246.7,297.0 L244.8,296.4 L243.2,295.5 L241.9,294.2 L241.0,292.5 L240.4,290.5 L240.1,288.1 L239.2,279.0 L238.3,269.9 L237.5,260.8 L236.9,251.7 L236.4,242.6 L246.7,240.9 L253.1,245.0 L253.6,254.2 L254.2,263.4 L255.0,272.6 L255.9,281.9 L256.9,291.1 L257.1,293.1 L257.6,294.8 L258.3,296.1 L259.4,297.2 L260.8,298.0 L262.4,298.4 L264.4,298.6 L264.5,298.7 L264.6,298.7 L264.7,298.8 L264.8,298.8 L264.9,298.9" fill="none" stroke="#141414" stroke-width="1.80" stroke-linejoin="round" stroke-linecap="round"/></g>
<g id="t20"><path d="M256.7,252.8 L257.0,261.9 L257.4,271.0 L257.9,280.1 L258.5,289.3 L259.1,298.4 L259.4,300.9 L260.0,303.1 L261.0,304.9 L262.3,306.3 L264.1,307.3 L266.2,307.9 L268.6,308.2 L268.6,307.9 L272.9,310.1 L277.2,312.2 L281.5,314.2 L285.8,316.2 L290.1,318.2 L288.1,309.1 L284.1,308.3 L282.2,308.1 L280.5,307.7 L279.2,306.9 L278.1,305.8 L277.3,304.4 L276.8,302.8 L276.6,300.8 L276.0,291.5 L275.5,282.3 L275.0,273.0 L274.5,263.8 L274.2,254.6Z" fill="#fff"/>
<path d="M256.7,252.8 L264.4,256.6 L274.2,254.6 L266.5,250.7Z" fill="#fff"/>
<path d="M264.4,256.6 L264.7,265.1 L265.2,273.7 L265.7,282.2 L266.2,290.7 L266.8,299.2 L267.1,301.8 L267.7,303.9 L268.7,305.7 L270.1,307.1 L271.8,308.1 L273.9,308.8 L276.4,309.1 L280.0,310.8 L283.6,312.9 L287.1,314.9" fill="none" stroke="#707070" stroke-width="0.80" stroke-linejoin="round" stroke-linecap="round"/>
<path d="M256.7,252.8 L264.4,256.6 L274.2,254.6" fill="none" stroke="#555" stroke-width="0.80" stroke-linejoin="round" stroke-linecap="round"/>
<path d="M268.6,308.2 L266.2,307.9 L264.1,307.3 L262.3,306.3 L261.0,304.9 L260.0,303.1 L259.4,300.9 L259.1,298.4 L258.5,289.3 L257.9,280.1 L257.4,271.0 L257.0,261.9 L256.7,252.8 L266.5,250.7 L274.2,254.6 L274.5,263.8 L275.0,273.0 L275.5,282.3 L276.0,291.5 L276.6,300.8 L276.8,302.8 L277.3,304.4 L278.1,305.8 L279.2,306.9 L280.5,307.7 L282.2,308.1 L284.1,308.3 L284.2,308.3 L284.3,308.4 L284.4,308.4 L284.5,308.5 L284.6,308.5" fill="none" stroke="#141414" stroke-width="1.80" stroke-linejoin="round" stroke-linecap="round"/></g>
<g id="t21"><path d="M279.5,261.0 L279.6,270.5 L279.8,279.9 L280.0,289.3 L280.3,298.8 L280.6,308.2 L280.9,310.9 L281.6,313.3 L282.6,315.2 L284.1,316.7 L286.0,317.8 L288.3,318.5 L290.9,318.8 L290.9,318.5 L295.2,320.4 L299.5,322.1 L303.7,323.8 L308.0,325.4 L312.3,326.9 L310.3,318.3 L306.3,317.5 L304.3,317.4 L302.7,316.9 L301.3,316.1 L300.2,315.1 L299.4,313.7 L299.0,312.0 L298.8,310.0 L298.5,300.4 L298.2,290.9 L298.0,281.3 L297.8,271.7 L297.6,262.1Z" fill="#fff"/>
<path d="M279.5,261.0 L288.5,264.6 L297.6,262.1 L288.6,258.6Z" fill="#fff"/>
<path d="M288.5,264.6 L288.6,273.4 L288.8,282.3 L289.0,291.2 L289.3,300.1 L289.6,309.0 L289.8,311.7 L290.5,314.1 L291.6,316.0 L293.0,317.5 L294.9,318.6 L297.2,319.3 L299.9,319.6 L303.0,320.9 L306.1,322.3 L309.3,323.8" fill="none" stroke="#707070" stroke-width="0.80" stroke-linejoin="round" stroke-linecap="round"/>
<path d="M279.5,261.0 L288.5,264.6 L297.6,262.1" fill="none" stroke="#555" stroke-width="0.80" stroke-linejoin="round" stroke-linecap="round"/>
<path d="M290.9,318.8 L288.3,318.5 L286.0,317.8 L284.1,316.7 L282.6,315.2 L281.6,313.3 L280.9,310.9 L280.6,308.2 L280.3,298.8 L280.0,289.3 L279.8,279.9 L279.6,270.5 L279.5,261.0 L288.6,258.6 L297.6,262.1 L297.8,271.7 L298.0,281.3 L298.2,290.9 L298.5,300.4 L298.8,310.0 L299.0,312.0 L299.4,313.7 L300.2,315.1 L301.3,316.1 L302.7,316.9 L304.3,317.4 L306.3,317.5 L306.9,317.7 L307.5,318.0 L308.2,318.2 L308.8,318.4 L309.5,318.7" fill="none" stroke="#141414" stroke-width="1.80" stroke-linejoin="round" stroke-linecap="round"/></g>
<g id="t22"><path d="M308.4,270.6 L308.4,280.1 L308.4,289.6 L308.4,299.0 L308.4,308.5 L308.5,318.0 L308.8,321.0 L309.5,323.5 L310.7,325.6 L312.3,327.2 L314.3,328.4 L316.8,329.2 L319.7,329.5 L319.7,329.2 L323.9,330.4 L328.0,331.5 L332.2,332.6 L336.3,333.5 L340.4,334.5 L338.4,326.5 L334.4,325.7 L332.5,325.6 L330.9,325.1 L329.5,324.4 L328.4,323.3 L327.6,321.9 L327.2,320.2 L326.9,318.2 L326.9,308.8 L326.9,299.5 L326.9,290.1 L326.8,280.7 L326.8,271.3Z" fill="#fff"/>
<path d="M308.4,270.6 L318.1,274.0 L326.8,271.3 L317.1,268.0Z" fill="#fff"/>
<path d="M318.1,274.0 L318.1,282.7 L318.2,291.4 L318.2,300.2 L318.2,308.9 L318.2,317.7 L318.5,320.7 L319.2,323.2 L320.4,325.3 L322.0,326.9 L324.0,328.1 L326.5,328.9 L329.5,329.2 L332.1,329.8 L334.8,330.7 L337.4,331.6" fill="none" stroke="#707070" stroke-width="0.80" stroke-linejoin="round" stroke-linecap="round"/>
<path d="M308.4,270.6 L318.1,274.0 L326.8,271.3" fill="none" stroke="#555" stroke-width="0.80" stroke-linejoin="round" stroke-linecap="round"/>
<path d="M319.7,329.5 L316.8,329.2 L314.3,328.4 L312.3,327.2 L310.7,325.6 L309.5,323.5 L308.8,321.0 L308.5,318.0 L308.4,308.5 L308.4,299.0 L308.4,289.6 L308.4,280.1 L308.4,270.6 L317.1,268.0 L326.8,271.3 L326.8,280.7 L326.9,290.1 L326.9,299.5 L326.9,308.8 L326.9,318.2 L327.2,320.2 L327.6,321.9 L328.4,323.3 L329.5,324.4 L330.9,325.1 L332.5,325.6 L334.4,325.7 L335.3,325.9 L336.1,326.1 L337.0,326.3 L337.8,326.5 L338.7,326.7" fill="none" stroke="#141414" stroke-width="1.80" stroke-linejoin="round" stroke-linecap="round"/></g>
<g id="t23"><path d="M337.7,281.7 L337.7,290.5 L337.7,299.2 L337.7,308.0 L337.7,316.7 L337.7,325.5 L338.0,328.5 L338.8,331.1 L340.0,333.3 L341.6,335.0 L343.7,336.2 L346.2,337.0 L349.2,337.3 L349.2,337.0 L353.3,338.2 L357.4,339.5 L361.6,340.8 L365.7,342.0 L369.8,343.3 L367.8,334.8 L363.8,334.0 L361.9,333.8 L360.2,333.4 L358.9,332.6 L357.8,331.6 L357.0,330.2 L356.5,328.5 L356.3,326.5 L356.3,317.6 L356.3,308.7 L356.3,299.8 L356.3,290.9 L356.3,282.1Z" fill="#fff"/>
<path d="M337.7,281.7 L348.0,284.9 L356.3,282.1 L346.0,278.9Z" fill="#fff"/>
<path d="M348.0,284.9 L348.0,293.0 L348.0,301.2 L348.0,309.3 L348.0,317.5 L348.0,325.6 L348.3,328.7 L349.0,331.3 L350.2,333.4 L351.9,335.1 L354.0,336.3 L356.5,337.1 L359.5,337.4 L361.9,338.1 L364.4,339.1 L366.8,340.1" fill="none" stroke="#707070" stroke-width="0.80" stroke-linejoin="round" stroke-linecap="round"/>
<path d="M337.7,281.7 L348.0,284.9 L356.3,282.1" fill="none" stroke="#555" stroke-width="0.80" stroke-linejoin="round" stroke-linecap="round"/>
<path d="M349.2,337.3 L346.2,337.0 L343.7,336.2 L341.6,335.0 L340.0,333.3 L338.8,331.1 L338.0,328.5 L337.7,325.5 L337.7,316.7 L337.7,308.0 L337.7,299.2 L337.7,290.5 L337.7,281.7 L346.0,278.9 L356.3,282.1 L356.3,290.9 L356.3,299.8 L356.3,308.7 L356.3,317.6 L356.3,326.5 L356.5,328.5 L357.0,330.2 L357.8,331.6 L358.9,332.6 L360.2,333.4 L361.9,333.8 L363.8,334.0 L365.9,334.6 L367.9,335.2 L370.0,335.8 L372.0,336.4 L374.1,337.0" fill="none" stroke="#141414" stroke-width="1.80" stroke-linejoin="round" stroke-linecap="round"/></g>
<g id="t24"><path d="M373.1,289.3 L373.1,298.6 L373.1,307.9 L373.1,317.2 L373.1,326.5 L373.1,335.8 L373.4,338.8 L374.2,341.4 L375.4,343.6 L377.0,345.3 L379.1,346.5 L381.6,347.3 L384.6,347.6 L384.6,347.3 L388.7,348.3 L392.9,349.4 L397.0,350.4 L401.2,351.4 L405.3,352.4 L403.3,344.2 L399.3,343.4 L397.4,343.3 L395.7,342.8 L394.4,342.1 L393.3,341.0 L392.5,339.6 L392.0,337.9 L391.8,335.9 L391.8,326.6 L391.8,317.3 L391.8,308.0 L391.8,298.6 L391.8,289.3Z" fill="#fff"/>
<path d="M373.1,289.3 L383.8,292.3 L391.8,289.3 L381.2,286.3Z" fill="#fff"/>
<path d="M383.8,292.3 L383.8,300.9 L383.8,309.6 L383.8,318.2 L383.8,326.9 L383.8,335.5 L384.0,338.6 L384.8,341.2 L386.0,343.3 L387.6,345.0 L389.7,346.2 L392.3,347.0 L395.3,347.3 L397.6,347.8 L400.0,348.6 L402.3,349.4" fill="none" stroke="#707070" stroke-width="0.80" stroke-linejoin="round" stroke-linecap="round"/>
<path d="M373.1,289.3 L383.8,292.3 L391.8,289.3" fill="none" stroke="#555" stroke-width="0.80" stroke-linejoin="round" stroke-linecap="round"/>
<path d="M384.6,347.6 L381.6,347.3 L379.1,346.5 L377.0,345.3 L375.4,343.6 L374.2,341.4 L373.4,338.8 L373.1,335.8 L373.1,326.5 L373.1,317.2 L373.1,307.9 L373.1,298.6 L373.1,289.3 L381.2,286.3 L391.8,289.3 L391.8,298.6 L391.8,308.0 L391.8,317.3 L391.8,326.6 L391.8,335.9 L392.0,337.9 L392.5,339.6 L393.3,341.0 L394.4,342.1 L395.7,342.8 L397.4,343.3 L399.3,343.4 L401.7,344.0 L404.1,344.6 L406.5,345.1 L408.9,345.7 L411.3,346.2" fill="none" stroke="#141414" stroke-width="1.80" stroke-linejoin="round" stroke-linecap="round"/></g>
<g id="t25"><path d="M410.3,299.4 L410.3,308.4 L410.3,317.4 L410.3,326.4 L410.3,335.4 L410.3,344.4 L410.7,347.4 L411.4,350.0 L412.6,352.2 L414.3,353.8 L416.3,355.1 L418.9,355.8 L421.8,356.2 L421.8,355.9 L426.0,356.6 L430.2,357.2 L434.3,357.9 L438.5,358.5 L442.6,359.1 L440.6,351.4 L436.6,350.6 L434.7,350.4 L433.1,350.0 L431.7,349.2 L430.6,348.1 L429.8,346.8 L429.3,345.1 L429.1,343.1 L429.1,334.4 L429.1,325.6 L429.1,316.9 L429.1,308.2 L429.1,299.4Z" fill="#fff"/>
<path d="M410.3,299.4 L421.0,302.4 L429.1,299.4 L418.4,296.4Z" fill="#fff"/>
<path d="M421.0,302.4 L421.0,310.6 L421.0,318.7 L421.0,326.8 L421.0,335.0 L421.0,343.1 L421.3,346.2 L422.1,348.8 L423.2,350.9 L424.9,352.6 L427.0,353.8 L429.5,354.6 L432.5,354.9 L434.9,355.2 L437.3,355.8 L439.6,356.4" fill="none" stroke="#707070" stroke-width="0.80" stroke-linejoin="round" stroke-linecap="round"/>
<path d="M410.3,299.4 L421.0,302.4 L429.1,299.4" fill="none" stroke="#555" stroke-width="0.80" stroke-linejoin="round" stroke-linecap="round"/>
<path d="M421.8,356.2 L418.9,355.8 L416.3,355.1 L414.3,353.8 L412.6,352.2 L411.4,350.0 L410.7,347.4 L410.3,344.4 L410.3,335.4 L410.3,326.4 L410.3,317.4 L410.3,308.4 L410.3,299.4 L418.4,296.4 L429.1,299.4 L429.1,308.2 L429.1,316.9 L429.1,325.6 L429.1,334.4 L429.1,343.1 L429.3,345.1 L429.8,346.8 L430.6,348.1 L431.7,349.2 L433.1,350.0 L434.7,350.4 L436.6,350.6 L440.0,351.1 L443.5,351.6 L446.9,352.0 L450.3,352.5 L453.7,352.9" fill="none" stroke="#141414" stroke-width="1.80" stroke-linejoin="round" stroke-linecap="round"/></g>
<g id="t26"><path d="M460.7,308.1 L459.1,316.8 L457.5,325.6 L455.9,334.3 L454.3,343.1 L452.7,351.8 L452.9,354.4 L453.6,356.6 L454.6,358.5 L456.0,359.9 L457.8,361.0 L459.9,361.6 L462.5,361.9 L462.5,361.6 L467.0,362.1 L471.5,362.6 L476.0,363.0 L480.5,363.4 L485.0,363.8 L483.0,356.4 L479.0,355.6 L477.0,355.4 L475.4,355.0 L474.0,354.2 L472.9,353.1 L472.1,351.8 L471.7,350.1 L471.5,348.1 L473.1,340.2 L474.7,332.3 L476.3,324.4 L477.9,316.5 L479.5,308.6Z" fill="#c4c4c4"/>
<path d="M460.7,308.1 L470.5,311.4 L479.5,308.6 L469.7,305.3Z" fill="#c4c4c4"/>
<path d="M470.5,311.4 L468.9,319.1 L467.3,326.8 L465.7,334.5 L464.1,342.2 L462.5,349.9 L462.7,352.5 L463.3,354.7 L464.4,356.5 L465.8,358.0 L467.5,359.0 L469.7,359.7 L472.3,360.0 L475.5,360.3 L478.7,360.9 L482.0,361.5" fill="none" stroke="#707070" stroke-width="0.80" stroke-linejoin="round" stroke-linecap="round"/>
<path d="M460.7,308.1 L470.5,311.4 L479.5,308.6" fill="none" stroke="#555" stroke-width="0.80" stroke-linejoin="round" stroke-linecap="round"/>
<path d="M462.5,361.9 L459.9,361.6 L457.8,361.0 L456.0,359.9 L454.6,358.5 L453.6,356.6 L452.9,354.4 L452.7,351.8 L454.3,343.1 L455.9,334.3 L457.5,325.6 L459.1,316.8 L460.7,308.1 L469.7,305.3 L479.5,308.6 L477.9,316.5 L476.3,324.4 L474.7,332.3 L473.1,340.2 L471.5,348.1 L471.7,350.1 L472.1,351.8 L472.9,353.1 L474.0,354.2 L475.4,355.0 L477.0,355.4 L479.0,355.6 L482.0,355.9 L485.0,356.1 L488.1,356.4 L491.1,356.7 L494.1,356.9" fill="none" stroke="#141414" stroke-width="1.80" stroke-linejoin="round" stroke-linecap="round"/></g>
<g id="t27"><path d="M500.1,311.1 L498.7,320.5 L497.3,330.0 L495.9,339.4 L494.5,348.9 L493.1,358.3 L493.3,360.1 L493.8,361.7 L494.5,363.0 L495.5,364.0 L496.7,364.8 L498.2,365.2 L500.0,365.5 L500.0,365.2 L504.8,365.6 L509.6,365.9 L514.3,366.3 L519.1,366.6 L523.9,366.9 L521.9,359.6 L517.9,358.8 L516.4,358.7 L515.1,358.3 L514.0,357.7 L513.2,356.9 L512.5,355.8 L512.2,354.4 L512.0,352.8 L513.4,344.4 L514.8,336.0 L516.2,327.5 L517.6,319.1 L519.0,310.7Z" fill="#c4c4c4"/>
<path d="M500.1,311.1 L511.4,313.9 L519.0,310.7 L507.7,307.9Z" fill="#c4c4c4"/>
<path d="M511.4,313.9 L510.0,322.3 L508.6,330.8 L507.2,339.3 L505.8,347.8 L504.4,356.2 L504.6,358.1 L505.0,359.6 L505.8,360.9 L506.7,361.9 L508.0,362.7 L509.5,363.2 L511.2,363.4 L514.5,363.6 L517.7,364.2 L520.9,364.7" fill="none" stroke="#707070" stroke-width="0.80" stroke-linejoin="round" stroke-linecap="round"/>
<path d="M500.1,311.1 L511.4,313.9 L519.0,310.7" fill="none" stroke="#555" stroke-width="0.80" stroke-linejoin="round" stroke-linecap="round"/>
<path d="M500.0,365.5 L498.2,365.2 L496.7,364.8 L495.5,364.0 L494.5,363.0 L493.8,361.7 L493.3,360.1 L493.1,358.3 L494.5,348.9 L495.9,339.4 L497.3,330.0 L498.7,320.5 L500.1,311.1 L507.7,307.9 L519.0,310.7 L517.6,319.1 L516.2,327.5 L514.8,336.0 L513.4,344.4 L512.0,352.8 L512.2,354.4 L512.5,355.8 L513.2,356.9 L514.0,357.7 L515.1,358.3 L516.4,358.7 L517.9,358.8 L521.3,359.0 L524.7,359.2 L528.0,359.4 L531.4,359.6 L534.8,359.8" fill="none" stroke="#141414" stroke-width="1.80" stroke-linejoin="round" stroke-linecap="round"/></g>
<g id="t31"><path d="M661.2,309.6 L661.2,320.3 L661.2,331.1 L661.2,341.9 L661.2,352.6 L661.2,363.4 L661.4,364.8 L661.7,366.1 L662.3,367.1 L663.1,367.9 L664.1,368.5 L665.3,368.9 L666.7,369.1 L666.7,368.8 L670.6,368.8 L674.5,368.8 L678.5,368.8 L682.4,368.8 L686.4,368.8 L684.4,361.8 L680.4,361.0 L679.2,361.0 L678.2,360.7 L677.3,360.2 L676.6,359.5 L676.1,358.6 L675.8,357.6 L675.7,356.3 L675.7,346.2 L675.7,336.1 L675.7,325.9 L675.7,315.8 L675.7,305.6Z" fill="#fff"/>
<path d="M661.2,309.6 L675.4,309.7 L675.7,305.6 L661.5,305.5Z" fill="#fff"/>
<path d="M675.4,309.7 L675.4,319.8 L675.4,329.9 L675.4,340.1 L675.4,350.2 L675.4,360.4 L675.6,361.8 L676.0,363.1 L676.5,364.1 L677.3,364.9 L678.3,365.5 L679.5,365.9 L680.8,366.1 L681.7,365.9 L682.5,366.0 L683.4,366.1" fill="none" stroke="#707070" stroke-width="0.80" stroke-linejoin="round" stroke-linecap="round"/>
<path d="M661.2,309.6 L675.4,309.7 L675.7,305.6" fill="none" stroke="#555" stroke-width="0.80" stroke-linejoin="round" stroke-linecap="round"/>
<path d="M666.7,369.1 L665.3,368.9 L664.1,368.5 L663.1,367.9 L662.3,367.1 L661.7,366.1 L661.4,364.8 L661.2,363.4 L661.2,352.6 L661.2,341.9 L661.2,331.1 L661.2,320.3 L661.2,309.6 L661.5,305.5 L675.7,305.6 L675.7,315.8 L675.7,325.9 L675.7,336.1 L675.7,346.2 L675.7,356.3 L675.8,357.6 L676.1,358.6 L676.6,359.5 L677.3,360.2 L678.2,360.7 L679.2,361.0 L680.4,361.0 L682.2,361.1 L684.1,361.1 L686.0,361.1 L687.8,361.1 L689.7,361.1" fill="none" stroke="#141414" stroke-width="1.80" stroke-linejoin="round" stroke-linecap="round"/></g>
<g id="t28"><path d="M533.8,311.5 L533.8,321.9 L533.8,332.4 L533.8,342.9 L533.8,353.4 L533.8,363.8 L533.9,364.9 L534.1,365.7 L534.5,366.5 L535.1,367.0 L535.8,367.5 L536.6,367.8 L537.6,367.9 L537.6,367.6 L542.4,367.8 L547.1,368.0 L551.9,368.1 L556.7,368.2 L561.5,368.3 L559.5,361.2 L555.5,360.4 L554.6,360.3 L553.9,360.1 L553.3,359.8 L552.9,359.3 L552.5,358.7 L552.3,357.9 L552.1,357.1 L552.1,347.6 L552.1,338.2 L552.1,328.8 L552.1,319.4 L552.1,310.0Z" fill="#fff"/>
<path d="M533.8,311.5 L546.3,313.6 L552.1,310.0 L539.6,307.9Z" fill="#fff"/>
<path d="M546.3,313.6 L546.3,323.1 L546.3,332.6 L546.3,342.2 L546.3,351.7 L546.3,361.2 L546.5,362.2 L546.7,363.1 L547.1,363.8 L547.7,364.4 L548.4,364.9 L549.2,365.2 L550.2,365.3 L552.9,365.4 L555.7,365.7 L558.5,366.1" fill="none" stroke="#707070" stroke-width="0.80" stroke-linejoin="round" stroke-linecap="round"/>
<path d="M533.8,311.5 L546.3,313.6 L552.1,310.0" fill="none" stroke="#555" stroke-width="0.80" stroke-linejoin="round" stroke-linecap="round"/>
<path d="M537.6,367.9 L536.6,367.8 L535.8,367.5 L535.1,367.0 L534.5,366.5 L534.1,365.7 L533.9,364.9 L533.8,363.8 L533.8,353.4 L533.8,342.9 L533.8,332.4 L533.8,321.9 L533.8,311.5 L539.6,307.9 L552.1,310.0 L552.1,319.4 L552.1,328.8 L552.1,338.2 L552.1,347.6 L552.1,357.1 L552.3,357.9 L552.5,358.7 L552.9,359.3 L553.3,359.8 L553.9,360.1 L554.6,360.3 L555.5,360.4 L559.9,360.5 L564.4,360.5 L568.8,360.6 L573.3,360.7 L577.7,360.7" fill="none" stroke="#141414" stroke-width="1.80" stroke-linejoin="round" stroke-linecap="round"/></g>
<g id="t30"><path d="M619.2,311.4 L619.2,322.4 L619.2,333.4 L619.2,344.4 L619.2,355.4 L619.2,366.4 L619.3,367.0 L619.4,367.6 L619.7,368.1 L620.0,368.4 L620.4,368.7 L621.0,368.9 L621.6,369.1 L621.6,368.8 L625.7,368.8 L629.9,368.8 L634.1,368.8 L638.2,368.8 L642.4,368.8 L640.4,361.8 L636.4,361.0 L635.8,361.0 L635.2,360.8 L634.7,360.5 L634.4,360.2 L634.1,359.7 L633.9,359.1 L633.8,358.4 L633.8,348.2 L633.8,338.0 L633.8,327.9 L633.8,317.7 L633.8,307.5Z" fill="#fff"/>
<path d="M619.2,311.4 L633.4,311.5 L633.8,307.5 L619.6,307.4Z" fill="#fff"/>
<path d="M633.4,311.5 L633.4,321.9 L633.4,332.3 L633.4,342.7 L633.4,353.1 L633.4,363.4 L633.5,364.1 L633.7,364.6 L633.9,365.1 L634.3,365.5 L634.7,365.8 L635.2,366.0 L635.8,366.1 L637.0,365.9 L638.2,366.0 L639.4,366.2" fill="none" stroke="#707070" stroke-width="0.80" stroke-linejoin="round" stroke-linecap="round"/>
<path d="M619.2,311.4 L633.4,311.5 L633.8,307.5" fill="none" stroke="#555" stroke-width="0.80" stroke-linejoin="round" stroke-linecap="round"/>
<path d="M621.6,369.1 L621.0,368.9 L620.4,368.7 L620.0,368.4 L619.7,368.1 L619.4,367.6 L619.3,367.0 L619.2,366.4 L619.2,355.4 L619.2,344.4 L619.2,333.4 L619.2,322.4 L619.2,311.4 L619.6,307.4 L633.8,307.5 L633.8,317.7 L633.8,327.9 L633.8,338.0 L633.8,348.2 L633.8,358.4 L633.9,359.1 L634.1,359.7 L634.4,360.2 L634.7,360.5 L635.2,360.8 L635.8,361.0 L636.4,361.0 L641.6,361.0 L646.7,361.0 L651.9,361.0 L657.1,361.0 L662.2,361.0" fill="none" stroke="#141414" stroke-width="1.80" stroke-linejoin="round" stroke-linecap="round"/></g>
<g id="t29"><path d="M576.7,312.2 L576.7,323.0 L576.7,333.8 L576.7,344.6 L576.7,355.4 L576.7,366.3 L576.8,366.9 L576.9,367.4 L577.2,367.9 L577.5,368.2 L577.9,368.5 L578.4,368.7 L579.0,368.9 L579.0,368.6 L583.7,368.6 L588.3,368.6 L593.0,368.6 L597.6,368.7 L602.2,368.7 L600.2,361.7 L596.2,360.9 L595.6,360.8 L595.0,360.7 L594.6,360.4 L594.2,360.0 L593.9,359.5 L593.7,358.9 L593.6,358.2 L593.6,348.5 L593.6,338.7 L593.6,329.0 L593.6,319.2 L593.6,309.4Z" fill="#fff"/>
<path d="M576.7,312.2 L590.5,313.4 L593.6,309.4 L579.9,308.3Z" fill="#fff"/>
<path d="M590.5,313.4 L590.5,323.4 L590.5,333.4 L590.5,343.3 L590.5,353.3 L590.5,363.3 L590.6,364.0 L590.8,364.5 L591.0,365.0 L591.3,365.3 L591.7,365.6 L592.2,365.8 L592.8,365.9 L594.9,365.9 L597.1,366.1 L599.2,366.3" fill="none" stroke="#707070" stroke-width="0.80" stroke-linejoin="round" stroke-linecap="round"/>
<path d="M576.7,312.2 L590.5,313.4 L593.6,309.4" fill="none" stroke="#555" stroke-width="0.80" stroke-linejoin="round" stroke-linecap="round"/>
<path d="M579.0,368.9 L578.4,368.7 L577.9,368.5 L577.5,368.2 L577.2,367.9 L576.9,367.4 L576.8,366.9 L576.7,366.3 L576.7,355.4 L576.7,344.6 L576.7,333.8 L576.7,323.0 L576.7,312.2 L579.9,308.3 L593.6,309.4 L593.6,319.2 L593.6,329.0 L593.6,338.7 L593.6,348.5 L593.6,358.2 L593.7,358.9 L593.9,359.5 L594.2,360.0 L594.6,360.4 L595.0,360.7 L595.6,360.8 L596.2,360.9 L601.0,360.9 L605.8,360.9 L610.6,360.9 L615.4,361.0 L620.2,361.0" fill="none" stroke="#141414" stroke-width="1.80" stroke-linejoin="round" stroke-linecap="round"/></g>
</g>
<clipPath id="cc"><rect x="0" y="100" width="185" height="290"/></clipPath>
<g clip-path="url(#cc)">
<path d="M142,143.3 L136.9,145.5 L119,152.6 L95.2,162.1 L76.2,170.5 L59.5,178.8 L47.6,187.1 L38.1,196.7 L31,206.2 L25.7,215.7 L21.9,225.2 L19.3,236 L17.3,247 L16.6,252 L15,265 L14,280 L16.5,294 L22,308 L30,319 L40,329 L52,338 L64,346 L78,355 L92,362 L106,367 L120,370 L135,370.5 L148,369.5 L160,367 L168,363.5 L186,363 L186,119 L145,143 Z" fill="#dde3ef"/>
<path d="M14,282 L17,296 L22,308 L30,319 L40,329 L52,338 L64,346 L78,355 L92,362 L106,367 L120,370 L135,370.5 L148,369.5 L160,367 L168,363.5 L172,352 L150,352.5 L122,352 L100,348.5 L84.8,344.9 L70,340 L60,336.6 L45,326 L30,310 L20,292 Z" fill="#e8ecf5"/>
<path d="M176,275 L186,262 L186,330 L180,334 L176,345 L173.5,358 L171.5,361 L168,363.5 L160,350 L165,320 L172,295 Z" fill="#cdd4e3" opacity="0.5"/>
<g fill="none" stroke="#c5ccdb" opacity="0.85">
<ellipse cx="125" cy="226" rx="30" ry="35" stroke-width="1"/>
<ellipse cx="112" cy="228" rx="32.5" ry="37" stroke-width="1" fill="#d9dfec"/>
<ellipse cx="112.5" cy="228" rx="29.5" ry="34" stroke-width="4.6" stroke-dasharray="1.5 1.7" opacity="0.75"/>
<ellipse cx="113.5" cy="228.5" rx="25.5" ry="30" stroke-width="1"/>
<ellipse cx="117" cy="230" rx="18.5" ry="21.5" stroke-width="1.2" fill="#d5dbe9"/>
<ellipse cx="119.5" cy="231" rx="12" ry="14" stroke-width="1" fill="#cfd6e5"/>
<ellipse cx="120.5" cy="231.5" rx="6.5" ry="7.5" stroke-width="1" fill="#c7cede"/>
<ellipse cx="121" cy="232" rx="2.8" ry="3.2" stroke-width="1"/>
<path d="M131,212 q7,-5 12,0 q4,6 -2,11 q-7,3 -11,-3 z" stroke-width="1.2"/>
<path d="M103,251 q3,6 9,7 M126,250 q4,5 2,9" stroke-width="1.1"/>
</g>
<path d="M61.7,180 C52,190 47,202 48.5,211 C51,222 60,231 70,237 C78,241.5 86,245.5 94,249 C102,252.5 110,256 118,257.4 C126,258.3 134,255.5 141,251.4 C148,247.5 154,243.5 160.5,239.5 C167,235 174,230 180,225 L186,220" fill="none" stroke="#a3aabb" stroke-width="0.9"/>
<path d="M74.8,243 C90,251 104,259.5 117.6,262 C126,263 134,262.5 147,260" fill="none" stroke="#b3bacb" stroke-width="0.8"/>
<path d="M142,160 C120,166 80,182 61.7,180" fill="none" stroke="#c3c9d8" stroke-width="0.8"/>
<path d="M38,245 C40,256 46,262 52,266" fill="none" stroke="#b4bbcb" stroke-width="0.8"/>
<path d="M160,178 L186,190 L186,262 L176,275 C178,262 178,250 176,236 C172,215 166,196 160,178 Z" fill="#d6dcea" opacity="0.7"/>
<path d="M177,197 L186,201 L186,250 L179,245 Z" fill="#e2e6f1" stroke="#b9c0d0" stroke-width="0.7"/>
<path d="M176,188.3 L186,193 L186,198.5 L178.5,194 Z" fill="#2a2a2d"/>
<path d="M142,143.3 L136.9,145.5 L119,152.6 L95.2,162.1 L76.2,170.5 L59.5,178.8 L47.6,187.1 L38.1,196.7 L31,206.2 L25.7,215.7 L21.9,225.2 L19.3,236 L17.3,247 L16.6,252" fill="none" stroke="#1c1c1c" stroke-width="1.8" stroke-linejoin="round"/>
<path d="M54,182 L47.6,187.1 L38.1,196.7 L31,206.2 L25.7,215.7 L22.5,224 L21.3,229.5 L26.5,229 L30.8,216.7 L36.7,205 L43.3,193.3 L50,186.5 L57,182.3 Z" fill="#74767d"/>
<path d="M52,184.5 L44,192 L36,203 L30,214.5 L26,225" fill="none" stroke="#e3e4e8" stroke-width="1.5"/>
<path d="M55,183.8 L48,190 L40.5,200.5 L34,212 L29.5,222.5 L27.2,229" fill="none" stroke="#3e3f45" stroke-width="1.1"/>
<path d="M137,148.2 L119,155.4 L95.8,164.8 L77,173.2 L60.5,181.5" fill="none" stroke="#8f95a3" stroke-width="0.8"/>
<path d="M145,142.5 L186,118 L186,181 L168,175 L155,169 L143,161.5 L137.5,155 L136,148.5 Z" fill="#1e1e20"/>
<path d="M146.5,145.5 L186,122.5 L186,172 L165,165 L152,160 L144,154 L142.5,149 Z" fill="#5a5a5f"/>
<path d="M146,149 L170,145 L186,150 L186,171.5 L165,165 L152,160 L145,154.5 Z" fill="#8d8d92"/>
<path d="M170,144.5 L186,132 L186,150 Z" fill="#e9e9f2"/>
<path d="M143.5,157 L152,162 L165,167.5 L186,175" fill="none" stroke="#77777c" stroke-width="1.6"/>
<path d="M146,156.5 L160,160 L168,167 L186,172" fill="none" stroke="#111" stroke-width="1.1"/>
<path d="M17,246 L15,265 L14,280 L16.5,294 L22,306 L30,316.5 L40,325.5 L51.7,331.5 L66,335.5 L73,335 L77.5,331.5 L78.3,326 L75,310 L72,297 L60,285 L40,262 L25,246 Z" fill="#101010"/>
<path d="M18,250 L16.5,268 L17.5,283.3 L30,298.3 L50,311.7 L75,320.8 L72,298 L60,285 L40,262 L25,248 Z" fill="#3d3d40"/>
<path d="M17.1,244.5 L21.4,240 L24.5,240 L35.7,251.4 L42.9,249.3 L45.7,262.9 L67.9,280 L71.5,290 L72.5,297.5 L70.5,300.5 L51.7,289 L36.7,275.5 L35.5,266 L26,264.5 L17.5,249 Z" fill="#e9e9ea" stroke="#1c1c1c" stroke-width="1" stroke-linejoin="round"/>
<path d="M22.9,243.6 L35,254.3 L42,252 L43.6,258.6 L28.5,261 L20.7,248.6 Z" fill="#55565a" stroke="#222" stroke-width="0.6"/>
<path d="M42.9,265.5 L65,279.3 L68,292 L66,293.5 L52,285 L40.5,272 L39.5,266.5 Z" fill="#55565a" stroke="#222" stroke-width="0.6"/>
<path d="M20,250 L27.5,263 L35,264" fill="none" stroke="#9b9b9f" stroke-width="1"/>
<path d="M38,275 L52,287.5 L69,297.5" fill="none" stroke="#9b9b9f" stroke-width="1"/>
<path d="M42.9,243.6 L50,237.9 L52.9,240.7 L45.7,246.4 Z" fill="#f6f7fa" stroke="#a9afbd" stroke-width="0.7"/>
<path d="M17,252 L15,265 L14,280 L16.5,294 L22,308 L30,319 L40,329 L52,338 L64,346 L78,355 L92,362 L106,367 L120,370 L135,370.5 L148,369.5 L160,367 L168,363.5 L171.5,359" fill="none" stroke="#1c1c1c" stroke-width="1.5" stroke-linejoin="round"/>
<path d="M84.8,304.5 C100,308.5 122,311.5 139.7,312.8" fill="none" stroke="#3a3d45" stroke-width="1.1"/>
<path d="M89,321 C96,323.5 103,325 110,326" fill="none" stroke="#8e95a6" stroke-width="0.9"/>
<path d="M87,338.7 C94,341 101,342.8 108,343.8" fill="none" stroke="#a2a9b9" stroke-width="0.9"/>
<path d="M60,336.6 C70,340.5 78,343 84.8,344.9 C100,349 112,351.5 122,352 L150,352.5" fill="none" stroke="#b9c0cf" stroke-width="0.9"/>
<path d="M139.7,312.8 C148,312 156,309 164,300 C170,293 174,284 176,275" fill="none" stroke="#aeb5c5" stroke-width="0.9"/>
<path d="M77.6,278.3 L91,270 L111.8,271 C118,269.5 123,267 128.3,264.8 C134,262.5 140,261 147,259.7 C154,258.5 161,258 167.7,257.6 L182,257.6 L184.2,261.7 C182,266.5 179.5,271 176,275.2 C172,282 166,289.5 159.4,294.9 C154,297.2 148,298 142.8,298 L122,298 L116,291.8 L97.3,286.6 L80.7,282.4 Z" fill="#eeeff3" stroke="#4a4a4e" stroke-width="1.3" stroke-linejoin="round"/>
<path d="M82,278.5 L92,273 L111,274 C105,277 101,281 99,285 Z" fill="#fdfdfe"/>
<path d="M99,285 C103,279 110,275 118,273 C126,270 133,267 140,265 L136,270 C128,274 121,279 117,290 Z" fill="#c4c6cf"/>
<path d="M118,292 C124,283 131,277 139,273 L137,280 C131,284 127,289 124,296 Z" fill="#fbfbfd"/>
<path d="M124,296 L142.8,296 C148,296 153,295.2 158.5,293 C164,288.5 169,282.5 173,276 L166,280 C160,287 152,291.5 144,292.5 Z" fill="#d2d4dc"/>
<path d="M150,261 L181,259.5 L182.5,262 C181,265.5 179,269 176.5,272.5 L168,268 C164,265 158,262.5 150,261 Z" fill="#d9dbe2"/>
<path d="M128,270 C136,265 146,262.5 158,262.5 C166,262.5 172,264 176,267 C173,276 167,285 160,291 C152,294.5 142,295 134,293 C128,288 126,279 128,270 Z" fill="#c9cbd4" stroke="#85878f" stroke-width="0.8"/>
<path d="M131,271 C138,266.5 147,264.5 157,264.5 C163,264.5 168,265.5 172,268 C166,268 160,270 156,273 Z" fill="#f4f4f7"/>
<path d="M133,290 C139,292.5 148,293 157,290.5 C161,287 164,283 166,279 C161,285 152,289 143,289 Z" fill="#9fa1aa"/>
<circle cx="141.5" cy="279.5" r="8.2" fill="#dfe0e6" stroke="#777981" stroke-width="0.9"/>
<path d="M136,275 q4,-3 9,-1" fill="none" stroke="#5d5f66" stroke-width="0.9"/>
<circle cx="151.5" cy="280" r="9.6" fill="#d2d3da" stroke="#3f4046" stroke-width="1.3"/>
<circle cx="151.5" cy="280" r="6.8" fill="#eeeef2" stroke="#5b5c63" stroke-width="0.9"/>
<path d="M146.8,276.8 L153,274.8 L157.3,279 L155.6,285.6 L149,286.2 L146,281.5 Z" fill="#3d3e43"/>
<path d="M149.5,278.6 L153,277.6 L155,281.5 L151.5,283.8 Z" fill="#b1b2b9"/>
<path d="M163,269.5 q5.5,4.5 3,12.5" fill="none" stroke="#64666d" stroke-width="1.1"/>
<path d="M166.5,268 q6,5 3.5,13" fill="none" stroke="#8d8f97" stroke-width="0.8"/>
<ellipse cx="117" cy="334.5" rx="8" ry="9.3" fill="#eceef3" stroke="#3e4046" stroke-width="1.2" transform="rotate(-12 117 334.5)"/>
<ellipse cx="118" cy="335" rx="5" ry="6.6" fill="#dfe1e8" stroke="#6d6f77" stroke-width="0.8" transform="rotate(-12 118 335)"/>
<path d="M116,329 q6,3 4,12" fill="none" stroke="#4b4d54" stroke-width="1"/>
<path d="M139.5,312.5 L143.6,313.6 C148.6,324 153,336 155.6,348 L153.2,352 L151,349 C149,337 145,324 139.5,312.5 Z" fill="#f3f4f7" stroke="#26272b" stroke-width="1.1" stroke-linejoin="round"/>
<path d="M142.5,321.1 l3.6,-1.2" stroke="#3a3b40" stroke-width="0.9"/>
<path d="M145.1,327.8 l3.6,-1.2" stroke="#3a3b40" stroke-width="0.9"/>
<path d="M147.4,334.6 l3.6,-1.2" stroke="#3a3b40" stroke-width="0.9"/>
<path d="M149.3,341.4 l3.6,-1.2" stroke="#3a3b40" stroke-width="0.9"/>
<path d="M150.8,347.1 l3.6,-1.2" stroke="#3a3b40" stroke-width="0.9"/>
<path d="M186,330 C181,334 177.5,340 175.5,348 C174.5,353 174,357 173.5,360 L177,364 L186,370 Z" fill="#2b2b2d"/>
<path d="M186,334 C182,338 179.5,344 178,351 L177,359 L180,363 L186,367 Z" fill="#4a4a4d"/>
<path d="M181.0,339.5 L186,336.5" stroke="#1d1d1f" stroke-width="0.9"/>
<path d="M180.3,344.5 L186,341.5" stroke="#1d1d1f" stroke-width="0.9"/>
<path d="M179.6,349.5 L186,346.5" stroke="#1d1d1f" stroke-width="0.9"/>
<path d="M178.5,354.5 L186,351.5" stroke="#1d1d1f" stroke-width="0.9"/>
<path d="M178.5,359.5 L186,356.5" stroke="#1d1d1f" stroke-width="0.9"/>
<path d="M178.5,364.5 L186,361.5" stroke="#1d1d1f" stroke-width="0.9"/>
<path d="M186,300 C181,312 178,322 176,334 C174.5,345 173.5,354 171.5,359" fill="none" stroke="#9aa1b1" stroke-width="0.9"/>
<path d="M186,328 C180.5,333 177,340 175,348 C174,353 173.3,357 172.5,360.5" fill="none" stroke="#1c1c1c" stroke-width="1.2"/>
</g>
<path d="M188.3,185 L153.6,185 L153.6,222" fill="none" stroke="#fff" stroke-width="4.2" opacity="0.85"/>
<path d="M188.3,185 L153.6,185 L153.6,222" fill="none" stroke="#111" stroke-width="2.3"/>
<circle cx="153.7" cy="229.2" r="9.8" fill="#fff" opacity="0.9"/>
<circle cx="153.7" cy="229.2" r="7.9" fill="#c51f2b" stroke="#111" stroke-width="1.7"/>
<path d="M188.5,23 L188.5,397" stroke="#111" stroke-width="2" fill="none"/>
<path d="M352,377 L461,326 M352,377 L501,335" stroke="#111" stroke-width="1.4" fill="none" stroke-linecap="round"/>
<clipPath id="one"><path d="M328,364 H344.6 V392 H338.6 V384.6 H328 Z"/></clipPath>
<text x="332.2" y="387.6" clip-path="url(#one)" font-family="'Liberation Sans',Arial,sans-serif" font-weight="700" font-size="28.5" fill="#111">1</text>
<text x="92" y="388" font-family="'Liberation Sans',Arial,sans-serif" font-weight="700" font-size="11.3" fill="#111">AD1230335 ©</text>
</svg></body></html>
